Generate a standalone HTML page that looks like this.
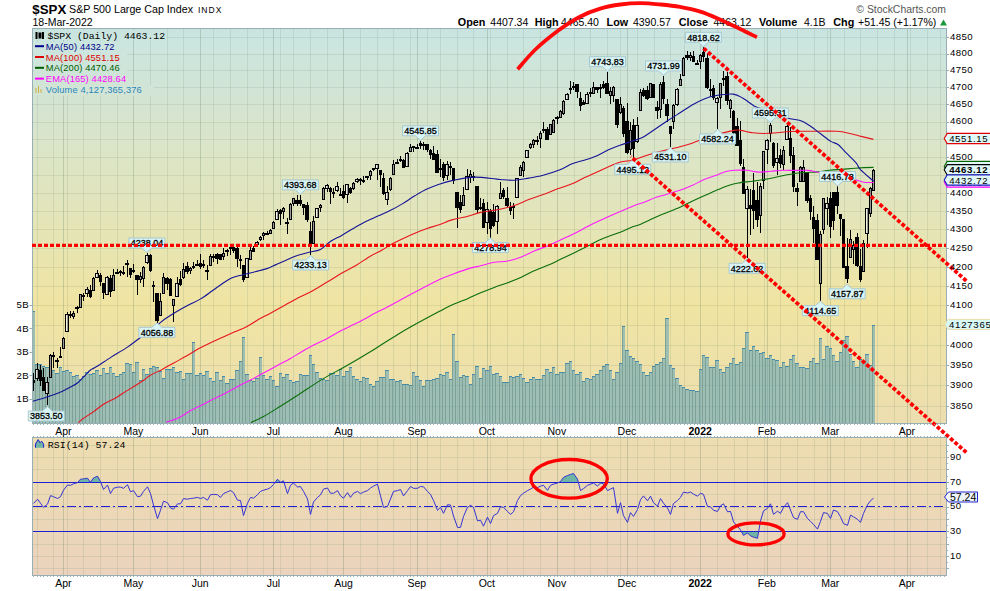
<!DOCTYPE html><html><head><meta charset="utf-8"><style>html,body{margin:0;padding:0;background:#fff;width:990px;height:591px;overflow:hidden}svg{display:block}text{font-family:"Liberation Sans",sans-serif}</style></head><body>
<svg width="990" height="591" viewBox="0 0 990 591">
<defs><linearGradient id="gp" gradientUnits="userSpaceOnUse" x1="0" y1="28.5" x2="0" y2="423.5"><stop offset="0" stop-color="rgb(201,228,224)"/><stop offset="0.04" stop-color="rgb(203,229,223)"/><stop offset="0.19" stop-color="rgb(212,228,210)"/><stop offset="0.32" stop-color="rgb(220,229,198)"/><stop offset="0.47" stop-color="rgb(227,229,186)"/><stop offset="0.70" stop-color="rgb(240,228,162)"/><stop offset="0.82" stop-color="rgb(238,226,168)"/><stop offset="1" stop-color="rgb(236,222,175)"/></linearGradient><linearGradient id="gr" x1="0" y1="0" x2="0" y2="1"><stop offset="0" stop-color="rgb(237,221,176)"/><stop offset="1" stop-color="rgb(235,211,189)"/></linearGradient><clipPath id="cp"><rect x="33" y="29" width="913" height="394"/></clipPath><clipPath id="cr"><rect x="33" y="438" width="913" height="137"/></clipPath></defs>
<text x="32.3" y="14" font-size="13.3" font-weight="bold" fill="#000">$SPX</text>
<text x="69" y="13.3" font-size="10.7" fill="#000">S&amp;P 500 Large Cap Index</text>
<text x="198" y="13" font-size="8.5" fill="#000" letter-spacing="1">INDX</text>
<text x="32.5" y="26.3" font-size="10.5" fill="#000">18-Mar-2022</text>
<text x="946" y="13.2" font-size="10.4" fill="#555" text-anchor="end">© StockCharts.com</text>
<text x="457.8" y="25.7" font-size="10.8" font-weight="bold" fill="#000">Open</text>
<text x="490.3" y="25.7" font-size="10.5" fill="#000">4407.34</text>
<text x="534.7" y="25.7" font-size="10.8" font-weight="bold" fill="#000">High</text>
<text x="561.0" y="25.7" font-size="10.5" fill="#000">4465.40</text>
<text x="606.6" y="25.7" font-size="10.8" font-weight="bold" fill="#000">Low</text>
<text x="632.9" y="25.7" font-size="10.5" fill="#000">4390.57</text>
<text x="678.7" y="25.7" font-size="10.8" font-weight="bold" fill="#000">Close</text>
<text x="713.5" y="25.7" font-size="10.5" fill="#000">4463.12</text>
<text x="759.0" y="25.7" font-size="10.8" font-weight="bold" fill="#000">Volume</text>
<text x="804.0" y="25.7" font-size="10.5" fill="#000">4.1B</text>
<text x="833.3" y="25.7" font-size="10.8" font-weight="bold" fill="#000">Chg</text>
<text x="858.0" y="25.7" font-size="10.5" fill="#000">+51.45 (+1.17%)</text>
<path d="M940 25.5 L943.5 19.5 L947 25.5 Z" fill="#1a9a3a"/>
<rect x="32.5" y="28.5" width="914.0" height="395.0" fill="url(#gp)" stroke="#96aeb4" stroke-width="1"/>
<g clip-path="url(#cp)">
<path d="M37.5 29V423 M53.5 29V423 M63.5 29V423 M67.5 29V423 M83.5 29V423 M100.5 29V423 M117.5 29V423 M133.5 29V423 M150.5 29V423 M167.5 29V423 M183.5 29V423 M200.5 29V423 M213.5 29V423 M230.5 29V423 M247.5 29V423 M263.5 29V423 M273.5 29V423 M280.5 29V423 M293.5 29V423 M310.5 29V423 M327.5 29V423 M343.5 29V423 M360.5 29V423 M377.5 29V423 M393.5 29V423 M410.5 29V423 M417.5 29V423 M427.5 29V423 M440.5 29V423 M457.5 29V423 M473.5 29V423 M487.5 29V423 M490.5 29V423 M507.5 29V423 M523.5 29V423 M540.5 29V423 M557.5 29V423 M574.5 29V423 M590.5 29V423 M607.5 29V423 M620.5 29V423 M627.5 29V423 M637.5 29V423 M654.5 29V423 M670.5 29V423 M684.5 29V423 M700.5 29V423 M717.5 29V423 M734.5 29V423 M747.5 29V423 M764.5 29V423 M767.5 29V423 M780.5 29V423 M797.5 29V423 M814.5 29V423 M827.5 29V423 M830.5 29V423 M844.5 29V423 M860.5 29V423 M877.5 29V423 M894.5 29V423 M907.5 29V423 M910.5 29V423 M927.5 29V423 M940.5 29V423" stroke="rgb(100,130,100)" stroke-opacity="0.15" stroke-width="1" fill="none"/>
<path d="M63.5 29V423 M133.5 29V423 M200.5 29V423 M273.5 29V423 M343.5 29V423 M417.5 29V423 M487.5 29V423 M557.5 29V423 M627.5 29V423 M700.5 29V423 M767.5 29V423 M830.5 29V423 M907.5 29V423" stroke="rgb(100,130,100)" stroke-opacity="0.14" stroke-width="1" fill="none"/>
<path d="M33 406.5H946 M33 385.5H946 M33 365.5H946 M33 345.5H946 M33 325.5H946 M33 305.5H946 M33 286.5H946 M33 267.5H946 M33 248.5H946 M33 229.5H946 M33 211.5H946 M33 193.5H946 M33 175.5H946 M33 157.5H946 M33 139.5H946 M33 122.5H946 M33 104.5H946 M33 87.5H946 M33 70.5H946 M33 54.5H946 M33 37.5H946" stroke="rgb(100,130,100)" stroke-opacity="0.15" stroke-width="1" fill="none"/>
<g fill="rgb(95,162,186)" fill-opacity="0.55"><rect x="32" y="311" width="3" height="112"/><rect x="35" y="364" width="4" height="59"/><rect x="39" y="364" width="3" height="59"/><rect x="42" y="366" width="3" height="57"/><rect x="45" y="367" width="4" height="56"/><rect x="49" y="368" width="3" height="55"/><rect x="52" y="370" width="3" height="53"/><rect x="55" y="373" width="4" height="50"/><rect x="59" y="367" width="3" height="56"/><rect x="62" y="371" width="3" height="52"/><rect x="65" y="370" width="4" height="53"/><rect x="69" y="372" width="3" height="51"/><rect x="72" y="376" width="3" height="47"/><rect x="75" y="375" width="4" height="48"/><rect x="79" y="379" width="3" height="44"/><rect x="82" y="376" width="3" height="47"/><rect x="85" y="372" width="4" height="51"/><rect x="89" y="374" width="3" height="49"/><rect x="92" y="373" width="3" height="50"/><rect x="95" y="370" width="4" height="53"/><rect x="99" y="375" width="3" height="48"/><rect x="102" y="368" width="3" height="55"/><rect x="105" y="373" width="4" height="50"/><rect x="109" y="367" width="3" height="56"/><rect x="112" y="373" width="3" height="50"/><rect x="115" y="376" width="4" height="47"/><rect x="119" y="374" width="3" height="49"/><rect x="122" y="372" width="3" height="51"/><rect x="125" y="363" width="4" height="60"/><rect x="129" y="364" width="3" height="59"/><rect x="132" y="372" width="3" height="51"/><rect x="135" y="362" width="4" height="61"/><rect x="139" y="380" width="3" height="43"/><rect x="142" y="369" width="3" height="54"/><rect x="145" y="374" width="4" height="49"/><rect x="149" y="368" width="3" height="55"/><rect x="152" y="366" width="3" height="57"/><rect x="155" y="367" width="4" height="56"/><rect x="159" y="371" width="3" height="52"/><rect x="162" y="378" width="3" height="45"/><rect x="165" y="369" width="4" height="54"/><rect x="169" y="369" width="3" height="54"/><rect x="172" y="367" width="3" height="56"/><rect x="175" y="372" width="4" height="51"/><rect x="179" y="371" width="3" height="52"/><rect x="182" y="379" width="3" height="44"/><rect x="185" y="373" width="4" height="50"/><rect x="189" y="373" width="3" height="50"/><rect x="192" y="342" width="3" height="81"/><rect x="195" y="375" width="4" height="48"/><rect x="199" y="373" width="3" height="50"/><rect x="202" y="375" width="3" height="48"/><rect x="205" y="371" width="4" height="52"/><rect x="209" y="378" width="3" height="45"/><rect x="212" y="381" width="3" height="42"/><rect x="215" y="372" width="4" height="51"/><rect x="219" y="380" width="3" height="43"/><rect x="222" y="376" width="3" height="47"/><rect x="225" y="383" width="4" height="40"/><rect x="229" y="379" width="3" height="44"/><rect x="232" y="379" width="3" height="44"/><rect x="235" y="370" width="4" height="53"/><rect x="239" y="361" width="3" height="62"/><rect x="242" y="337" width="3" height="86"/><rect x="245" y="374" width="4" height="49"/><rect x="249" y="380" width="3" height="43"/><rect x="252" y="381" width="3" height="42"/><rect x="255" y="378" width="4" height="45"/><rect x="259" y="357" width="3" height="66"/><rect x="262" y="375" width="3" height="48"/><rect x="265" y="379" width="4" height="44"/><rect x="269" y="376" width="3" height="47"/><rect x="272" y="380" width="3" height="43"/><rect x="275" y="386" width="4" height="37"/><rect x="279" y="373" width="3" height="50"/><rect x="282" y="377" width="3" height="46"/><rect x="285" y="374" width="4" height="49"/><rect x="289" y="380" width="3" height="43"/><rect x="292" y="382" width="3" height="41"/><rect x="295" y="381" width="4" height="42"/><rect x="299" y="374" width="3" height="49"/><rect x="302" y="375" width="3" height="48"/><rect x="305" y="375" width="4" height="48"/><rect x="309" y="355" width="3" height="68"/><rect x="312" y="364" width="3" height="59"/><rect x="315" y="372" width="4" height="51"/><rect x="319" y="378" width="3" height="45"/><rect x="322" y="379" width="3" height="44"/><rect x="325" y="380" width="4" height="43"/><rect x="329" y="373" width="3" height="50"/><rect x="332" y="373" width="3" height="50"/><rect x="335" y="375" width="4" height="48"/><rect x="339" y="369" width="3" height="54"/><rect x="342" y="376" width="3" height="47"/><rect x="345" y="371" width="4" height="52"/><rect x="349" y="367" width="3" height="56"/><rect x="352" y="376" width="3" height="47"/><rect x="355" y="379" width="4" height="44"/><rect x="359" y="381" width="3" height="42"/><rect x="362" y="377" width="3" height="46"/><rect x="365" y="378" width="4" height="45"/><rect x="369" y="384" width="3" height="39"/><rect x="372" y="386" width="3" height="37"/><rect x="375" y="381" width="4" height="42"/><rect x="379" y="377" width="3" height="46"/><rect x="382" y="377" width="3" height="46"/><rect x="385" y="370" width="4" height="53"/><rect x="389" y="379" width="3" height="44"/><rect x="392" y="379" width="3" height="44"/><rect x="395" y="381" width="4" height="42"/><rect x="399" y="380" width="3" height="43"/><rect x="402" y="384" width="3" height="39"/><rect x="405" y="384" width="4" height="39"/><rect x="409" y="385" width="3" height="38"/><rect x="412" y="372" width="3" height="51"/><rect x="415" y="376" width="4" height="47"/><rect x="419" y="380" width="3" height="43"/><rect x="422" y="386" width="3" height="37"/><rect x="425" y="380" width="4" height="43"/><rect x="429" y="380" width="3" height="43"/><rect x="432" y="379" width="3" height="44"/><rect x="435" y="378" width="4" height="45"/><rect x="439" y="374" width="3" height="49"/><rect x="442" y="375" width="3" height="48"/><rect x="445" y="372" width="4" height="51"/><rect x="449" y="379" width="3" height="44"/><rect x="452" y="334" width="3" height="89"/><rect x="455" y="361" width="4" height="62"/><rect x="459" y="377" width="3" height="46"/><rect x="462" y="375" width="3" height="48"/><rect x="465" y="376" width="4" height="47"/><rect x="469" y="384" width="3" height="39"/><rect x="472" y="374" width="3" height="49"/><rect x="475" y="366" width="4" height="57"/><rect x="479" y="378" width="3" height="45"/><rect x="482" y="368" width="3" height="55"/><rect x="485" y="370" width="4" height="53"/><rect x="489" y="366" width="3" height="57"/><rect x="492" y="374" width="3" height="49"/><rect x="495" y="373" width="4" height="50"/><rect x="499" y="376" width="3" height="47"/><rect x="502" y="382" width="3" height="41"/><rect x="505" y="382" width="4" height="41"/><rect x="509" y="376" width="3" height="47"/><rect x="512" y="377" width="3" height="46"/><rect x="515" y="376" width="4" height="47"/><rect x="519" y="374" width="3" height="49"/><rect x="522" y="378" width="3" height="45"/><rect x="525" y="382" width="4" height="41"/><rect x="529" y="379" width="3" height="44"/><rect x="532" y="377" width="3" height="46"/><rect x="535" y="379" width="4" height="44"/><rect x="539" y="379" width="3" height="44"/><rect x="542" y="375" width="3" height="48"/><rect x="545" y="369" width="4" height="54"/><rect x="549" y="372" width="3" height="51"/><rect x="552" y="367" width="3" height="56"/><rect x="555" y="374" width="4" height="49"/><rect x="559" y="372" width="3" height="51"/><rect x="562" y="372" width="3" height="51"/><rect x="565" y="363" width="4" height="60"/><rect x="569" y="361" width="3" height="62"/><rect x="572" y="370" width="3" height="53"/><rect x="575" y="374" width="4" height="49"/><rect x="579" y="372" width="3" height="51"/><rect x="582" y="381" width="3" height="42"/><rect x="585" y="378" width="4" height="45"/><rect x="589" y="379" width="3" height="44"/><rect x="592" y="376" width="3" height="47"/><rect x="595" y="374" width="4" height="49"/><rect x="599" y="370" width="3" height="53"/><rect x="602" y="366" width="3" height="57"/><rect x="605" y="364" width="4" height="59"/><rect x="609" y="370" width="3" height="53"/><rect x="612" y="379" width="3" height="44"/><rect x="615" y="372" width="4" height="51"/><rect x="619" y="363" width="3" height="60"/><rect x="622" y="326" width="3" height="97"/><rect x="625" y="350" width="4" height="73"/><rect x="629" y="356" width="3" height="67"/><rect x="632" y="358" width="3" height="65"/><rect x="635" y="361" width="4" height="62"/><rect x="639" y="364" width="3" height="59"/><rect x="642" y="372" width="3" height="51"/><rect x="645" y="375" width="4" height="48"/><rect x="649" y="372" width="3" height="51"/><rect x="652" y="366" width="3" height="57"/><rect x="655" y="364" width="4" height="59"/><rect x="659" y="362" width="3" height="61"/><rect x="662" y="358" width="3" height="65"/><rect x="665" y="318" width="4" height="105"/><rect x="669" y="365" width="3" height="58"/><rect x="672" y="368" width="3" height="55"/><rect x="675" y="378" width="4" height="45"/><rect x="679" y="385" width="3" height="38"/><rect x="682" y="387" width="3" height="36"/><rect x="685" y="389" width="4" height="34"/><rect x="689" y="390" width="3" height="33"/><rect x="692" y="390" width="3" height="33"/><rect x="695" y="391" width="4" height="32"/><rect x="699" y="369" width="3" height="54"/><rect x="702" y="355" width="3" height="68"/><rect x="705" y="357" width="4" height="66"/><rect x="709" y="367" width="3" height="56"/><rect x="712" y="367" width="3" height="56"/><rect x="715" y="360" width="4" height="63"/><rect x="719" y="369" width="3" height="54"/><rect x="722" y="372" width="3" height="51"/><rect x="725" y="367" width="4" height="56"/><rect x="729" y="363" width="3" height="60"/><rect x="732" y="358" width="3" height="65"/><rect x="735" y="364" width="4" height="59"/><rect x="739" y="362" width="3" height="61"/><rect x="742" y="348" width="3" height="75"/><rect x="745" y="332" width="4" height="91"/><rect x="749" y="350" width="3" height="73"/><rect x="752" y="346" width="3" height="77"/><rect x="755" y="350" width="4" height="73"/><rect x="759" y="353" width="3" height="70"/><rect x="762" y="352" width="3" height="71"/><rect x="765" y="358" width="4" height="65"/><rect x="769" y="355" width="3" height="68"/><rect x="772" y="359" width="3" height="64"/><rect x="775" y="360" width="4" height="63"/><rect x="779" y="367" width="3" height="56"/><rect x="782" y="362" width="3" height="61"/><rect x="785" y="366" width="4" height="57"/><rect x="789" y="359" width="3" height="64"/><rect x="792" y="355" width="3" height="68"/><rect x="795" y="363" width="4" height="60"/><rect x="799" y="367" width="3" height="56"/><rect x="802" y="367" width="3" height="56"/><rect x="805" y="368" width="4" height="55"/><rect x="809" y="361" width="3" height="62"/><rect x="812" y="358" width="3" height="65"/><rect x="815" y="363" width="4" height="60"/><rect x="819" y="338" width="3" height="85"/><rect x="822" y="359" width="3" height="64"/><rect x="825" y="346" width="4" height="77"/><rect x="829" y="348" width="3" height="75"/><rect x="832" y="355" width="3" height="68"/><rect x="835" y="361" width="4" height="62"/><rect x="839" y="352" width="3" height="71"/><rect x="842" y="340" width="3" height="83"/><rect x="845" y="336" width="4" height="87"/><rect x="849" y="354" width="3" height="69"/><rect x="852" y="361" width="3" height="62"/><rect x="855" y="367" width="4" height="56"/><rect x="859" y="359" width="3" height="64"/><rect x="862" y="362" width="3" height="61"/><rect x="865" y="354" width="4" height="69"/><rect x="869" y="365" width="3" height="58"/><rect x="872" y="325" width="3" height="98"/></g>
<path d="M32.5 312V423 M35.5 365V423 M39.5 365V423 M42.5 367V423 M45.5 368V423 M49.5 369V423 M52.5 371V423 M55.5 374V423 M59.5 368V423 M62.5 372V423 M65.5 371V423 M69.5 373V423 M72.5 377V423 M75.5 376V423 M79.5 380V423 M82.5 377V423 M85.5 373V423 M89.5 375V423 M92.5 374V423 M95.5 371V423 M99.5 376V423 M102.5 369V423 M105.5 374V423 M109.5 368V423 M112.5 374V423 M115.5 377V423 M119.5 375V423 M122.5 373V423 M125.5 364V423 M129.5 365V423 M132.5 373V423 M135.5 363V423 M139.5 381V423 M142.5 370V423 M145.5 375V423 M149.5 369V423 M152.5 367V423 M155.5 368V423 M159.5 372V423 M162.5 379V423 M165.5 370V423 M169.5 370V423 M172.5 368V423 M175.5 373V423 M179.5 372V423 M182.5 380V423 M185.5 374V423 M189.5 374V423 M192.5 343V423 M195.5 376V423 M199.5 374V423 M202.5 376V423 M205.5 372V423 M209.5 379V423 M212.5 382V423 M215.5 373V423 M219.5 381V423 M222.5 377V423 M225.5 384V423 M229.5 380V423 M232.5 380V423 M235.5 371V423 M239.5 362V423 M242.5 338V423 M245.5 375V423 M249.5 381V423 M252.5 382V423 M255.5 379V423 M259.5 358V423 M262.5 376V423 M265.5 380V423 M269.5 377V423 M272.5 381V423 M275.5 387V423 M279.5 374V423 M282.5 378V423 M285.5 375V423 M289.5 381V423 M292.5 383V423 M295.5 382V423 M299.5 375V423 M302.5 376V423 M305.5 376V423 M309.5 356V423 M312.5 365V423 M315.5 373V423 M319.5 379V423 M322.5 380V423 M325.5 381V423 M329.5 374V423 M332.5 374V423 M335.5 376V423 M339.5 370V423 M342.5 377V423 M345.5 372V423 M349.5 368V423 M352.5 377V423 M355.5 380V423 M359.5 382V423 M362.5 378V423 M365.5 379V423 M369.5 385V423 M372.5 387V423 M375.5 382V423 M379.5 378V423 M382.5 378V423 M385.5 371V423 M389.5 380V423 M392.5 380V423 M395.5 382V423 M399.5 381V423 M402.5 385V423 M405.5 385V423 M409.5 386V423 M412.5 373V423 M415.5 377V423 M419.5 381V423 M422.5 387V423 M425.5 381V423 M429.5 381V423 M432.5 380V423 M435.5 379V423 M439.5 375V423 M442.5 376V423 M445.5 373V423 M449.5 380V423 M452.5 335V423 M455.5 362V423 M459.5 378V423 M462.5 376V423 M465.5 377V423 M469.5 385V423 M472.5 375V423 M475.5 367V423 M479.5 379V423 M482.5 369V423 M485.5 371V423 M489.5 367V423 M492.5 375V423 M495.5 374V423 M499.5 377V423 M502.5 383V423 M505.5 383V423 M509.5 377V423 M512.5 378V423 M515.5 377V423 M519.5 375V423 M522.5 379V423 M525.5 383V423 M529.5 380V423 M532.5 378V423 M535.5 380V423 M539.5 380V423 M542.5 376V423 M545.5 370V423 M549.5 373V423 M552.5 368V423 M555.5 375V423 M559.5 373V423 M562.5 373V423 M565.5 364V423 M569.5 362V423 M572.5 371V423 M575.5 375V423 M579.5 373V423 M582.5 382V423 M585.5 379V423 M589.5 380V423 M592.5 377V423 M595.5 375V423 M599.5 371V423 M602.5 367V423 M605.5 365V423 M609.5 371V423 M612.5 380V423 M615.5 373V423 M619.5 364V423 M622.5 327V423 M625.5 351V423 M629.5 357V423 M632.5 359V423 M635.5 362V423 M639.5 365V423 M642.5 373V423 M645.5 376V423 M649.5 373V423 M652.5 367V423 M655.5 365V423 M659.5 363V423 M662.5 359V423 M665.5 319V423 M669.5 366V423 M672.5 369V423 M675.5 379V423 M679.5 386V423 M682.5 388V423 M685.5 390V423 M689.5 391V423 M692.5 391V423 M695.5 392V423 M699.5 370V423 M702.5 356V423 M705.5 358V423 M709.5 368V423 M712.5 368V423 M715.5 361V423 M719.5 370V423 M722.5 373V423 M725.5 368V423 M729.5 364V423 M732.5 359V423 M735.5 365V423 M739.5 363V423 M742.5 349V423 M745.5 333V423 M749.5 351V423 M752.5 347V423 M755.5 351V423 M759.5 354V423 M762.5 353V423 M765.5 359V423 M769.5 356V423 M772.5 360V423 M775.5 361V423 M779.5 368V423 M782.5 363V423 M785.5 367V423 M789.5 360V423 M792.5 356V423 M795.5 364V423 M799.5 368V423 M802.5 368V423 M805.5 369V423 M809.5 362V423 M812.5 359V423 M815.5 364V423 M819.5 339V423 M822.5 360V423 M825.5 347V423 M829.5 349V423 M832.5 356V423 M835.5 362V423 M839.5 353V423 M842.5 341V423 M845.5 337V423 M849.5 355V423 M852.5 362V423 M855.5 368V423 M859.5 360V423 M862.5 363V423 M865.5 355V423 M869.5 366V423 M872.5 326V423" stroke="rgb(60,110,100)" stroke-opacity="0.35" stroke-width="1"/>
<path d="M32 311.5H35 M35 364.5H39 M39 364.5H42 M42 366.5H45 M45 367.5H49 M49 368.5H52 M52 370.5H55 M55 373.5H59 M59 367.5H62 M62 371.5H65 M65 370.5H69 M69 372.5H72 M72 376.5H75 M75 375.5H79 M79 379.5H82 M82 376.5H85 M85 372.5H89 M89 374.5H92 M92 373.5H95 M95 370.5H99 M99 375.5H102 M102 368.5H105 M105 373.5H109 M109 367.5H112 M112 373.5H115 M115 376.5H119 M119 374.5H122 M122 372.5H125 M125 363.5H129 M129 364.5H132 M132 372.5H135 M135 362.5H139 M139 380.5H142 M142 369.5H145 M145 374.5H149 M149 368.5H152 M152 366.5H155 M155 367.5H159 M159 371.5H162 M162 378.5H165 M165 369.5H169 M169 369.5H172 M172 367.5H175 M175 372.5H179 M179 371.5H182 M182 379.5H185 M185 373.5H189 M189 373.5H192 M192 342.5H195 M195 375.5H199 M199 373.5H202 M202 375.5H205 M205 371.5H209 M209 378.5H212 M212 381.5H215 M215 372.5H219 M219 380.5H222 M222 376.5H225 M225 383.5H229 M229 379.5H232 M232 379.5H235 M235 370.5H239 M239 361.5H242 M242 337.5H245 M245 374.5H249 M249 380.5H252 M252 381.5H255 M255 378.5H259 M259 357.5H262 M262 375.5H265 M265 379.5H269 M269 376.5H272 M272 380.5H275 M275 386.5H279 M279 373.5H282 M282 377.5H285 M285 374.5H289 M289 380.5H292 M292 382.5H295 M295 381.5H299 M299 374.5H302 M302 375.5H305 M305 375.5H309 M309 355.5H312 M312 364.5H315 M315 372.5H319 M319 378.5H322 M322 379.5H325 M325 380.5H329 M329 373.5H332 M332 373.5H335 M335 375.5H339 M339 369.5H342 M342 376.5H345 M345 371.5H349 M349 367.5H352 M352 376.5H355 M355 379.5H359 M359 381.5H362 M362 377.5H365 M365 378.5H369 M369 384.5H372 M372 386.5H375 M375 381.5H379 M379 377.5H382 M382 377.5H385 M385 370.5H389 M389 379.5H392 M392 379.5H395 M395 381.5H399 M399 380.5H402 M402 384.5H405 M405 384.5H409 M409 385.5H412 M412 372.5H415 M415 376.5H419 M419 380.5H422 M422 386.5H425 M425 380.5H429 M429 380.5H432 M432 379.5H435 M435 378.5H439 M439 374.5H442 M442 375.5H445 M445 372.5H449 M449 379.5H452 M452 334.5H455 M455 361.5H459 M459 377.5H462 M462 375.5H465 M465 376.5H469 M469 384.5H472 M472 374.5H475 M475 366.5H479 M479 378.5H482 M482 368.5H485 M485 370.5H489 M489 366.5H492 M492 374.5H495 M495 373.5H499 M499 376.5H502 M502 382.5H505 M505 382.5H509 M509 376.5H512 M512 377.5H515 M515 376.5H519 M519 374.5H522 M522 378.5H525 M525 382.5H529 M529 379.5H532 M532 377.5H535 M535 379.5H539 M539 379.5H542 M542 375.5H545 M545 369.5H549 M549 372.5H552 M552 367.5H555 M555 374.5H559 M559 372.5H562 M562 372.5H565 M565 363.5H569 M569 361.5H572 M572 370.5H575 M575 374.5H579 M579 372.5H582 M582 381.5H585 M585 378.5H589 M589 379.5H592 M592 376.5H595 M595 374.5H599 M599 370.5H602 M602 366.5H605 M605 364.5H609 M609 370.5H612 M612 379.5H615 M615 372.5H619 M619 363.5H622 M622 326.5H625 M625 350.5H629 M629 356.5H632 M632 358.5H635 M635 361.5H639 M639 364.5H642 M642 372.5H645 M645 375.5H649 M649 372.5H652 M652 366.5H655 M655 364.5H659 M659 362.5H662 M662 358.5H665 M665 318.5H669 M669 365.5H672 M672 368.5H675 M675 378.5H679 M679 385.5H682 M682 387.5H685 M685 389.5H689 M689 390.5H692 M692 390.5H695 M695 391.5H699 M699 369.5H702 M702 355.5H705 M705 357.5H709 M709 367.5H712 M712 367.5H715 M715 360.5H719 M719 369.5H722 M722 372.5H725 M725 367.5H729 M729 363.5H732 M732 358.5H735 M735 364.5H739 M739 362.5H742 M742 348.5H745 M745 332.5H749 M749 350.5H752 M752 346.5H755 M755 350.5H759 M759 353.5H762 M762 352.5H765 M765 358.5H769 M769 355.5H772 M772 359.5H775 M775 360.5H779 M779 367.5H782 M782 362.5H785 M785 366.5H789 M789 359.5H792 M792 355.5H795 M795 363.5H799 M799 367.5H802 M802 367.5H805 M805 368.5H809 M809 361.5H812 M812 358.5H815 M815 363.5H819 M819 338.5H822 M822 359.5H825 M825 346.5H829 M829 348.5H832 M832 355.5H835 M835 361.5H839 M839 352.5H842 M842 340.5H845 M845 336.5H849 M849 354.5H852 M852 361.5H855 M855 367.5H859 M859 359.5H862 M862 362.5H865 M865 354.5H869 M869 365.5H872 M872 325.5H875" stroke="rgb(70,140,168)" stroke-width="1"/>
<path d="M33.5 373V391 M37.5 363V381 M40.5 365V386 M43.5 368V391 M47.5 377V405 M50.5 354V378 M53.5 352V368 M57.5 358V368 M60.5 347V358 M63.5 337V349 M67.5 312V332 M70.5 311V318 M73.5 311V319 M77.5 306V313 M80.5 294V308 M83.5 293V301 M87.5 287V297 M90.5 285V298 M93.5 277V291 M97.5 270V278 M100.5 273V286 M103.5 283V299 M107.5 276V295 M110.5 275V297 M113.5 269V291 M117.5 269V274 M120.5 270V276 M123.5 266V275 M127.5 260V277 M130.5 268V278 M133.5 264V273 M137.5 275V295 M140.5 272V283 M143.5 266V287 M147.5 253V264 M150.5 254V272 M153.5 281V302 M157.5 293V323 M160.5 293V316 M163.5 273V294 M167.5 277V290 M170.5 278V296 M173.5 299V322 M177.5 277V297 M180.5 271V286 M183.5 263V279 M187.5 262V274 M190.5 267V274 M193.5 262V269 M197.5 260V266 M200.5 254V269 M203.5 260V268 M207.5 265V280 M210.5 254V266 M213.5 254V262 M217.5 253V264 M220.5 254V260 M223.5 248V260 M227.5 249V256 M230.5 246V255 M233.5 247V253 M237.5 247V267 M240.5 255V269 M243.5 265V282 M247.5 258V278 M250.5 247V260 M253.5 246V252 M257.5 241V246 M260.5 236V241 M263.5 232V240 M267.5 231V234 M270.5 229V234 M273.5 221V229 M277.5 209V220 M280.5 209V225 M283.5 207V219 M287.5 218V234 M290.5 203V220 M293.5 198V206 M297.5 195V206 M300.5 195V206 M303.5 204V215 M307.5 202V222 M310.5 222V255 M313.5 216V244 M317.5 208V218 M320.5 204V212 M323.5 187V200 M327.5 184V192 M330.5 187V204 M333.5 188V198 M337.5 182V192 M340.5 188V196 M343.5 185V199 M347.5 184V203 M350.5 187V194 M353.5 182V190 M357.5 178V183 M360.5 178V185 M363.5 176V183 M367.5 176V180 M370.5 170V180 M373.5 168V171 M377.5 164V180 M380.5 170V187 M383.5 173V195 M387.5 186V205 M390.5 177V191 M393.5 160V175 M397.5 159V164 M400.5 156V162 M403.5 159V168 M407.5 152V167 M410.5 144V152 M413.5 146V152 M417.5 144V149 M420.5 141V149 M423.5 142V150 M427.5 144V152 M430.5 149V159 M433.5 146V160 M437.5 150V173 M440.5 159V177 M443.5 162V181 M447.5 161V180 M450.5 162V175 M453.5 168V184 M457.5 192V228 M460.5 195V213 M463.5 187V206 M467.5 169V190 M470.5 170V183 M473.5 172V181 M477.5 186V213 M480.5 198V210 M483.5 199V228 M487.5 202V234 M490.5 209V238 M493.5 204V227 M497.5 205V234 M500.5 182V199 M503.5 188V199 M507.5 187V207 M510.5 202V215 M513.5 203V219 M517.5 178V198 M520.5 165V176 M523.5 161V177 M527.5 150V158 M530.5 143V149 M533.5 139V148 M537.5 136V145 M540.5 131V148 M543.5 122V133 M547.5 127V140 M550.5 124V135 M553.5 119V133 M557.5 116V124 M560.5 110V118 M563.5 100V115 M567.5 93V100 M570.5 81V94 M573.5 82V90 M577.5 84V98 M580.5 92V111 M583.5 100V105 M587.5 92V104 M590.5 88V97 M593.5 82V94 M597.5 87V93 M600.5 84V98 M603.5 81V89 M607.5 72V94 M610.5 87V104 M613.5 86V102 M617.5 99V128 M620.5 97V114 M623.5 106V137 M627.5 103V154 M630.5 122V155 M633.5 119V159 M637.5 117V143 M640.5 89V111 M643.5 88V97 M647.5 86V100 M650.5 83V98 M653.5 84V98 M657.5 101V119 M660.5 82V118 M663.5 76V104 M667.5 99V122 M670.5 126V147 M673.5 104V129 M677.5 88V106 M680.5 74V86 M683.5 57V76 M687.5 51V60 M690.5 52V61 M693.5 51V62 M697.5 60V65 M700.5 54V69 M703.5 47V62 M707.5 54V89 M710.5 79V97 M713.5 85V100 M717.5 97V129 M720.5 83V109 M723.5 71V86 M727.5 72V105 M730.5 99V118 M733.5 110V134 M737.5 118V146 M740.5 121V166 M743.5 159V194 M747.5 186V258 M750.5 189V235 M753.5 173V229 M757.5 182V227 M760.5 183V233 M763.5 151V189 M767.5 139V164 M770.5 123V142 M773.5 142V168 M777.5 143V175 M780.5 149V168 M783.5 146V170 M787.5 125V140 M790.5 127V163 M793.5 147V192 M797.5 183V206 M800.5 166V182 M803.5 160V182 M807.5 172V203 M810.5 195V220 M813.5 206V243 M817.5 214V260 M820.5 231V301 M823.5 198V234 M827.5 197V225 M830.5 192V238 M833.5 192V230 M837.5 186V214 M840.5 214V236 M843.5 219V268 M847.5 238V283 M850.5 230V258 M853.5 241V264 M857.5 233V267 M860.5 249V282 M863.5 240V272 M867.5 208V248 M870.5 187V217 M873.5 169V191" stroke="#000" stroke-width="1" fill="none"/>
<rect x="32" y="380" width="3" height="3" fill="#000"/><rect x="35.5" y="369.5" width="3" height="9" fill="#fff" fill-opacity="0.6" stroke="#000" stroke-width="1"/><rect x="39" y="370" width="3" height="11" fill="#000"/><rect x="42" y="377" width="3" height="14" fill="#000"/><rect x="45.5" y="382.5" width="3" height="11" fill="#fff" fill-opacity="0.6" stroke="#000" stroke-width="1"/><rect x="49.5" y="355.5" width="2" height="22" fill="#fff" fill-opacity="0.6" stroke="#000" stroke-width="1"/><rect x="52" y="355" width="3" height="2" fill="#000"/><rect x="55" y="360" width="4" height="2" fill="#000"/><rect x="59.5" y="356.5" width="2" height="1" fill="#fff" fill-opacity="0.6" stroke="#000" stroke-width="1"/><rect x="62.5" y="338.5" width="2" height="10" fill="#fff" fill-opacity="0.6" stroke="#000" stroke-width="1"/><rect x="65.5" y="314.5" width="3" height="17" fill="#fff" fill-opacity="0.6" stroke="#000" stroke-width="1"/><rect x="69" y="314" width="3" height="2" fill="#000"/><rect x="72.5" y="313.5" width="2" height="3" fill="#fff" fill-opacity="0.6" stroke="#000" stroke-width="1"/><rect x="75.5" y="307.5" width="3" height="1" fill="#fff" fill-opacity="0.6" stroke="#000" stroke-width="1"/><rect x="79.5" y="294.5" width="2" height="13" fill="#fff" fill-opacity="0.6" stroke="#000" stroke-width="1"/><rect x="82" y="295" width="3" height="2" fill="#000"/><rect x="85.5" y="289.5" width="3" height="4" fill="#fff" fill-opacity="0.6" stroke="#000" stroke-width="1"/><rect x="89" y="290" width="3" height="7" fill="#000"/><rect x="92.5" y="278.5" width="2" height="12" fill="#fff" fill-opacity="0.6" stroke="#000" stroke-width="1"/><rect x="95.5" y="273.5" width="3" height="4" fill="#fff" fill-opacity="0.6" stroke="#000" stroke-width="1"/><rect x="99" y="275" width="3" height="7" fill="#000"/><rect x="102" y="283" width="3" height="10" fill="#000"/><rect x="105.5" y="277.5" width="3" height="17" fill="#fff" fill-opacity="0.6" stroke="#000" stroke-width="1"/><rect x="109" y="278" width="3" height="14" fill="#000"/><rect x="112.5" y="275.5" width="2" height="15" fill="#fff" fill-opacity="0.6" stroke="#000" stroke-width="1"/><rect x="115" y="272" width="4" height="2" fill="#000"/><rect x="119.5" y="271.5" width="2" height="1" fill="#fff" fill-opacity="0.6" stroke="#000" stroke-width="1"/><rect x="122" y="272" width="3" height="2" fill="#000"/><rect x="125.5" y="263.5" width="3" height="1" fill="#fff" fill-opacity="0.6" stroke="#000" stroke-width="1"/><rect x="129" y="268" width="3" height="7" fill="#000"/><rect x="132" y="270" width="3" height="2" fill="#000"/><rect x="135" y="275" width="4" height="5" fill="#000"/><rect x="139.5" y="276.5" width="2" height="3" fill="#fff" fill-opacity="0.6" stroke="#000" stroke-width="1"/><rect x="142.5" y="267.5" width="2" height="11" fill="#fff" fill-opacity="0.6" stroke="#000" stroke-width="1"/><rect x="145.5" y="255.5" width="3" height="7" fill="#fff" fill-opacity="0.6" stroke="#000" stroke-width="1"/><rect x="149" y="255" width="3" height="16" fill="#000"/><rect x="152" y="285" width="3" height="2" fill="#000"/><rect x="155" y="293" width="4" height="28" fill="#000"/><rect x="159.5" y="301.5" width="2" height="14" fill="#fff" fill-opacity="0.6" stroke="#000" stroke-width="1"/><rect x="162.5" y="277.5" width="2" height="16" fill="#fff" fill-opacity="0.6" stroke="#000" stroke-width="1"/><rect x="165" y="278" width="4" height="6" fill="#000"/><rect x="169" y="279" width="3" height="17" fill="#000"/><rect x="172.5" y="299.5" width="2" height="6" fill="#fff" fill-opacity="0.6" stroke="#000" stroke-width="1"/><rect x="175.5" y="283.5" width="3" height="13" fill="#fff" fill-opacity="0.6" stroke="#000" stroke-width="1"/><rect x="179" y="279" width="3" height="6" fill="#000"/><rect x="182.5" y="269.5" width="2" height="8" fill="#fff" fill-opacity="0.6" stroke="#000" stroke-width="1"/><rect x="185" y="266" width="4" height="6" fill="#000"/><rect x="189.5" y="268.5" width="2" height="2" fill="#fff" fill-opacity="0.6" stroke="#000" stroke-width="1"/><rect x="192" y="266" width="3" height="2" fill="#000"/><rect x="195.5" y="264.5" width="3" height="1" fill="#fff" fill-opacity="0.6" stroke="#000" stroke-width="1"/><rect x="199" y="263" width="3" height="4" fill="#000"/><rect x="202.5" y="264.5" width="2" height="1" fill="#fff" fill-opacity="0.6" stroke="#000" stroke-width="1"/><rect x="205" y="270" width="4" height="2" fill="#000"/><rect x="209.5" y="256.5" width="2" height="9" fill="#fff" fill-opacity="0.6" stroke="#000" stroke-width="1"/><rect x="212" y="256" width="3" height="2" fill="#000"/><rect x="215" y="254" width="4" height="5" fill="#000"/><rect x="219" y="254" width="3" height="6" fill="#000"/><rect x="222.5" y="253.5" width="2" height="3" fill="#fff" fill-opacity="0.6" stroke="#000" stroke-width="1"/><rect x="225.5" y="250.5" width="3" height="1" fill="#fff" fill-opacity="0.6" stroke="#000" stroke-width="1"/><rect x="229" y="247" width="3" height="2" fill="#000"/><rect x="232" y="247" width="3" height="4" fill="#000"/><rect x="235" y="248" width="4" height="11" fill="#000"/><rect x="239" y="259" width="3" height="2" fill="#000"/><rect x="242" y="265" width="3" height="15" fill="#000"/><rect x="245.5" y="258.5" width="3" height="19" fill="#fff" fill-opacity="0.6" stroke="#000" stroke-width="1"/><rect x="249.5" y="250.5" width="2" height="9" fill="#fff" fill-opacity="0.6" stroke="#000" stroke-width="1"/><rect x="252" y="248" width="3" height="4" fill="#000"/><rect x="255.5" y="242.5" width="3" height="2" fill="#fff" fill-opacity="0.6" stroke="#000" stroke-width="1"/><rect x="259.5" y="237.5" width="2" height="2" fill="#fff" fill-opacity="0.6" stroke="#000" stroke-width="1"/><rect x="262.5" y="233.5" width="2" height="2" fill="#fff" fill-opacity="0.6" stroke="#000" stroke-width="1"/><rect x="265" y="233" width="4" height="2" fill="#000"/><rect x="269.5" y="230.5" width="2" height="3" fill="#fff" fill-opacity="0.6" stroke="#000" stroke-width="1"/><rect x="272.5" y="222.5" width="2" height="6" fill="#fff" fill-opacity="0.6" stroke="#000" stroke-width="1"/><rect x="275.5" y="211.5" width="3" height="8" fill="#fff" fill-opacity="0.6" stroke="#000" stroke-width="1"/><rect x="279" y="210" width="3" height="4" fill="#000"/><rect x="282.5" y="208.5" width="2" height="3" fill="#fff" fill-opacity="0.6" stroke="#000" stroke-width="1"/><rect x="285" y="222" width="4" height="2" fill="#000"/><rect x="289.5" y="204.5" width="2" height="15" fill="#fff" fill-opacity="0.6" stroke="#000" stroke-width="1"/><rect x="292.5" y="198.5" width="2" height="5" fill="#fff" fill-opacity="0.6" stroke="#000" stroke-width="1"/><rect x="295" y="200" width="4" height="4" fill="#000"/><rect x="299" y="200" width="3" height="4" fill="#000"/><rect x="302" y="204" width="3" height="4" fill="#000"/><rect x="305" y="205" width="4" height="15" fill="#000"/><rect x="309" y="231" width="3" height="13" fill="#000"/><rect x="312.5" y="221.5" width="2" height="22" fill="#fff" fill-opacity="0.6" stroke="#000" stroke-width="1"/><rect x="315.5" y="208.5" width="3" height="9" fill="#fff" fill-opacity="0.6" stroke="#000" stroke-width="1"/><rect x="319.5" y="205.5" width="2" height="2" fill="#fff" fill-opacity="0.6" stroke="#000" stroke-width="1"/><rect x="322.5" y="188.5" width="2" height="11" fill="#fff" fill-opacity="0.6" stroke="#000" stroke-width="1"/><rect x="325.5" y="185.5" width="3" height="3" fill="#fff" fill-opacity="0.6" stroke="#000" stroke-width="1"/><rect x="329" y="188" width="3" height="4" fill="#000"/><rect x="332" y="192" width="3" height="2" fill="#000"/><rect x="335.5" y="186.5" width="3" height="4" fill="#fff" fill-opacity="0.6" stroke="#000" stroke-width="1"/><rect x="339" y="194" width="3" height="2" fill="#000"/><rect x="342" y="191" width="3" height="7" fill="#000"/><rect x="345.5" y="184.5" width="3" height="10" fill="#fff" fill-opacity="0.6" stroke="#000" stroke-width="1"/><rect x="349" y="188" width="3" height="5" fill="#000"/><rect x="352.5" y="183.5" width="2" height="5" fill="#fff" fill-opacity="0.6" stroke="#000" stroke-width="1"/><rect x="355.5" y="179.5" width="3" height="2" fill="#fff" fill-opacity="0.6" stroke="#000" stroke-width="1"/><rect x="359" y="179" width="3" height="2" fill="#000"/><rect x="362" y="180" width="3" height="2" fill="#000"/><rect x="365.5" y="176.5" width="3" height="1" fill="#fff" fill-opacity="0.6" stroke="#000" stroke-width="1"/><rect x="369.5" y="171.5" width="2" height="4" fill="#fff" fill-opacity="0.6" stroke="#000" stroke-width="1"/><rect x="372" y="168" width="3" height="2" fill="#000"/><rect x="375.5" y="164.5" width="3" height="4" fill="#fff" fill-opacity="0.6" stroke="#000" stroke-width="1"/><rect x="379" y="170" width="3" height="5" fill="#000"/><rect x="382" y="178" width="3" height="16" fill="#000"/><rect x="385.5" y="192.5" width="3" height="7" fill="#fff" fill-opacity="0.6" stroke="#000" stroke-width="1"/><rect x="389.5" y="178.5" width="2" height="11" fill="#fff" fill-opacity="0.6" stroke="#000" stroke-width="1"/><rect x="392.5" y="164.5" width="2" height="10" fill="#fff" fill-opacity="0.6" stroke="#000" stroke-width="1"/><rect x="395" y="162" width="4" height="2" fill="#000"/><rect x="399.5" y="159.5" width="2" height="1" fill="#fff" fill-opacity="0.6" stroke="#000" stroke-width="1"/><rect x="402" y="160" width="3" height="8" fill="#000"/><rect x="405.5" y="153.5" width="3" height="13" fill="#fff" fill-opacity="0.6" stroke="#000" stroke-width="1"/><rect x="409.5" y="147.5" width="2" height="4" fill="#fff" fill-opacity="0.6" stroke="#000" stroke-width="1"/><rect x="412" y="146" width="3" height="2" fill="#000"/><rect x="415" y="147" width="4" height="2" fill="#000"/><rect x="419" y="143" width="3" height="3" fill="#000"/><rect x="422" y="144" width="3" height="2" fill="#000"/><rect x="425" y="144" width="4" height="6" fill="#000"/><rect x="429" y="150" width="3" height="5" fill="#000"/><rect x="432" y="153" width="3" height="7" fill="#000"/><rect x="435" y="154" width="4" height="19" fill="#000"/><rect x="439" y="168" width="3" height="2" fill="#000"/><rect x="442" y="164" width="3" height="14" fill="#000"/><rect x="445.5" y="164.5" width="3" height="11" fill="#fff" fill-opacity="0.6" stroke="#000" stroke-width="1"/><rect x="449" y="166" width="3" height="2" fill="#000"/><rect x="452" y="168" width="3" height="13" fill="#000"/><rect x="455" y="192" width="4" height="16" fill="#000"/><rect x="459" y="202" width="3" height="8" fill="#000"/><rect x="462.5" y="195.5" width="2" height="10" fill="#fff" fill-opacity="0.6" stroke="#000" stroke-width="1"/><rect x="465.5" y="176.5" width="3" height="13" fill="#fff" fill-opacity="0.6" stroke="#000" stroke-width="1"/><rect x="469.5" y="174.5" width="2" height="3" fill="#fff" fill-opacity="0.6" stroke="#000" stroke-width="1"/><rect x="472" y="176" width="3" height="2" fill="#000"/><rect x="475" y="186" width="4" height="24" fill="#000"/><rect x="479" y="207" width="3" height="2" fill="#000"/><rect x="482" y="203" width="3" height="25" fill="#000"/><rect x="485.5" y="209.5" width="3" height="13" fill="#fff" fill-opacity="0.6" stroke="#000" stroke-width="1"/><rect x="489" y="211" width="3" height="18" fill="#000"/><rect x="492" y="212" width="3" height="14" fill="#000"/><rect x="495.5" y="206.5" width="3" height="15" fill="#fff" fill-opacity="0.6" stroke="#000" stroke-width="1"/><rect x="499.5" y="193.5" width="2" height="5" fill="#fff" fill-opacity="0.6" stroke="#000" stroke-width="1"/><rect x="502" y="190" width="3" height="7" fill="#000"/><rect x="505" y="198" width="4" height="8" fill="#000"/><rect x="509" y="207" width="3" height="4" fill="#000"/><rect x="512.5" y="206.5" width="2" height="1" fill="#fff" fill-opacity="0.6" stroke="#000" stroke-width="1"/><rect x="515.5" y="178.5" width="3" height="19" fill="#fff" fill-opacity="0.6" stroke="#000" stroke-width="1"/><rect x="519.5" y="167.5" width="2" height="8" fill="#fff" fill-opacity="0.6" stroke="#000" stroke-width="1"/><rect x="522.5" y="162.5" width="2" height="8" fill="#fff" fill-opacity="0.6" stroke="#000" stroke-width="1"/><rect x="525.5" y="150.5" width="3" height="7" fill="#fff" fill-opacity="0.6" stroke="#000" stroke-width="1"/><rect x="529.5" y="144.5" width="2" height="3" fill="#fff" fill-opacity="0.6" stroke="#000" stroke-width="1"/><rect x="532.5" y="140.5" width="2" height="4" fill="#fff" fill-opacity="0.6" stroke="#000" stroke-width="1"/><rect x="535" y="140" width="4" height="2" fill="#000"/><rect x="539.5" y="133.5" width="2" height="5" fill="#fff" fill-opacity="0.6" stroke="#000" stroke-width="1"/><rect x="542" y="129" width="3" height="2" fill="#000"/><rect x="545" y="129" width="4" height="11" fill="#000"/><rect x="549.5" y="124.5" width="2" height="10" fill="#fff" fill-opacity="0.6" stroke="#000" stroke-width="1"/><rect x="552.5" y="120.5" width="2" height="12" fill="#fff" fill-opacity="0.6" stroke="#000" stroke-width="1"/><rect x="555" y="117" width="4" height="2" fill="#000"/><rect x="559.5" y="111.5" width="2" height="6" fill="#fff" fill-opacity="0.6" stroke="#000" stroke-width="1"/><rect x="562.5" y="101.5" width="2" height="12" fill="#fff" fill-opacity="0.6" stroke="#000" stroke-width="1"/><rect x="565.5" y="94.5" width="3" height="5" fill="#fff" fill-opacity="0.6" stroke="#000" stroke-width="1"/><rect x="569" y="88" width="3" height="2" fill="#000"/><rect x="572" y="86" width="3" height="2" fill="#000"/><rect x="575" y="84" width="4" height="8" fill="#000"/><rect x="579" y="98" width="3" height="8" fill="#000"/><rect x="582" y="102" width="3" height="3" fill="#000"/><rect x="585.5" y="94.5" width="3" height="9" fill="#fff" fill-opacity="0.6" stroke="#000" stroke-width="1"/><rect x="589" y="92" width="3" height="2" fill="#000"/><rect x="592.5" y="87.5" width="2" height="6" fill="#fff" fill-opacity="0.6" stroke="#000" stroke-width="1"/><rect x="595" y="87" width="4" height="3" fill="#000"/><rect x="599" y="87" width="3" height="2" fill="#000"/><rect x="602" y="84" width="3" height="4" fill="#000"/><rect x="605" y="83" width="4" height="11" fill="#000"/><rect x="609.5" y="91.5" width="2" height="4" fill="#fff" fill-opacity="0.6" stroke="#000" stroke-width="1"/><rect x="612.5" y="87.5" width="2" height="8" fill="#fff" fill-opacity="0.6" stroke="#000" stroke-width="1"/><rect x="615" y="99" width="4" height="26" fill="#000"/><rect x="619.5" y="104.5" width="2" height="8" fill="#fff" fill-opacity="0.6" stroke="#000" stroke-width="1"/><rect x="622" y="108" width="3" height="26" fill="#000"/><rect x="625" y="121" width="4" height="32" fill="#000"/><rect x="629.5" y="130.5" width="2" height="19" fill="#fff" fill-opacity="0.6" stroke="#000" stroke-width="1"/><rect x="632" y="125" width="3" height="24" fill="#000"/><rect x="635.5" y="125.5" width="3" height="16" fill="#fff" fill-opacity="0.6" stroke="#000" stroke-width="1"/><rect x="639.5" y="92.5" width="2" height="18" fill="#fff" fill-opacity="0.6" stroke="#000" stroke-width="1"/><rect x="642" y="90" width="3" height="6" fill="#000"/><rect x="645" y="90" width="4" height="9" fill="#000"/><rect x="649.5" y="83.5" width="2" height="14" fill="#fff" fill-opacity="0.6" stroke="#000" stroke-width="1"/><rect x="652" y="84" width="3" height="14" fill="#000"/><rect x="655" y="107" width="4" height="4" fill="#000"/><rect x="659.5" y="84.5" width="2" height="25" fill="#fff" fill-opacity="0.6" stroke="#000" stroke-width="1"/><rect x="662" y="82" width="3" height="17" fill="#000"/><rect x="665" y="104" width="4" height="12" fill="#000"/><rect x="669" y="126" width="3" height="8" fill="#000"/><rect x="672.5" y="105.5" width="2" height="16" fill="#fff" fill-opacity="0.6" stroke="#000" stroke-width="1"/><rect x="675.5" y="89.5" width="3" height="15" fill="#fff" fill-opacity="0.6" stroke="#000" stroke-width="1"/><rect x="679.5" y="79.5" width="2" height="6" fill="#fff" fill-opacity="0.6" stroke="#000" stroke-width="1"/><rect x="682.5" y="58.5" width="2" height="17" fill="#fff" fill-opacity="0.6" stroke="#000" stroke-width="1"/><rect x="685" y="55" width="4" height="3" fill="#000"/><rect x="689.5" y="55.5" width="2" height="2" fill="#fff" fill-opacity="0.6" stroke="#000" stroke-width="1"/><rect x="692" y="56" width="3" height="6" fill="#000"/><rect x="695" y="63" width="4" height="2" fill="#000"/><rect x="699.5" y="55.5" width="2" height="6" fill="#fff" fill-opacity="0.6" stroke="#000" stroke-width="1"/><rect x="702" y="52" width="3" height="5" fill="#000"/><rect x="705" y="58" width="4" height="30" fill="#000"/><rect x="709" y="89" width="3" height="2" fill="#000"/><rect x="712" y="88" width="3" height="10" fill="#000"/><rect x="715.5" y="98.5" width="3" height="4" fill="#fff" fill-opacity="0.6" stroke="#000" stroke-width="1"/><rect x="719.5" y="83.5" width="2" height="14" fill="#fff" fill-opacity="0.6" stroke="#000" stroke-width="1"/><rect x="722" y="78" width="3" height="2" fill="#000"/><rect x="725" y="76" width="4" height="25" fill="#000"/><rect x="729.5" y="100.5" width="2" height="8" fill="#fff" fill-opacity="0.6" stroke="#000" stroke-width="1"/><rect x="732" y="111" width="3" height="22" fill="#000"/><rect x="735" y="126" width="4" height="20" fill="#000"/><rect x="739" y="140" width="3" height="24" fill="#000"/><rect x="742" y="167" width="3" height="27" fill="#000"/><rect x="745.5" y="189.5" width="3" height="19" fill="#fff" fill-opacity="0.6" stroke="#000" stroke-width="1"/><rect x="749" y="205" width="3" height="4" fill="#000"/><rect x="752" y="190" width="3" height="21" fill="#000"/><rect x="755" y="200" width="4" height="20" fill="#000"/><rect x="759.5" y="186.5" width="2" height="29" fill="#fff" fill-opacity="0.6" stroke="#000" stroke-width="1"/><rect x="762.5" y="151.5" width="2" height="29" fill="#fff" fill-opacity="0.6" stroke="#000" stroke-width="1"/><rect x="765.5" y="140.5" width="3" height="9" fill="#fff" fill-opacity="0.6" stroke="#000" stroke-width="1"/><rect x="769.5" y="125.5" width="2" height="8" fill="#fff" fill-opacity="0.6" stroke="#000" stroke-width="1"/><rect x="772" y="143" width="3" height="23" fill="#000"/><rect x="775.5" y="158.5" width="3" height="4" fill="#fff" fill-opacity="0.6" stroke="#000" stroke-width="1"/><rect x="779" y="155" width="3" height="9" fill="#000"/><rect x="782.5" y="150.5" width="2" height="14" fill="#fff" fill-opacity="0.6" stroke="#000" stroke-width="1"/><rect x="785.5" y="126.5" width="3" height="13" fill="#fff" fill-opacity="0.6" stroke="#000" stroke-width="1"/><rect x="789" y="138" width="3" height="18" fill="#000"/><rect x="792" y="155" width="3" height="32" fill="#000"/><rect x="795" y="188" width="4" height="4" fill="#000"/><rect x="799.5" y="167.5" width="2" height="14" fill="#fff" fill-opacity="0.6" stroke="#000" stroke-width="1"/><rect x="802.5" y="167.5" width="2" height="14" fill="#fff" fill-opacity="0.6" stroke="#000" stroke-width="1"/><rect x="805" y="172" width="4" height="29" fill="#000"/><rect x="809" y="198" width="3" height="14" fill="#000"/><rect x="812" y="217" width="3" height="12" fill="#000"/><rect x="815" y="220" width="4" height="40" fill="#000"/><rect x="819.5" y="234.5" width="2" height="49" fill="#fff" fill-opacity="0.6" stroke="#000" stroke-width="1"/><rect x="822.5" y="198.5" width="2" height="31" fill="#fff" fill-opacity="0.6" stroke="#000" stroke-width="1"/><rect x="825.5" y="203.5" width="3" height="5" fill="#fff" fill-opacity="0.6" stroke="#000" stroke-width="1"/><rect x="829" y="198" width="3" height="29" fill="#000"/><rect x="832" y="192" width="3" height="29" fill="#000"/><rect x="835" y="192" width="4" height="14" fill="#000"/><rect x="839" y="214" width="3" height="5" fill="#000"/><rect x="842" y="219" width="3" height="49" fill="#000"/><rect x="845" y="266" width="4" height="13" fill="#000"/><rect x="849.5" y="239.5" width="2" height="18" fill="#fff" fill-opacity="0.6" stroke="#000" stroke-width="1"/><rect x="852.5" y="245.5" width="2" height="4" fill="#fff" fill-opacity="0.6" stroke="#000" stroke-width="1"/><rect x="855" y="237" width="4" height="29" fill="#000"/><rect x="859" y="266" width="3" height="14" fill="#000"/><rect x="862.5" y="243.5" width="2" height="28" fill="#fff" fill-opacity="0.6" stroke="#000" stroke-width="1"/><rect x="865.5" y="208.5" width="3" height="25" fill="#fff" fill-opacity="0.6" stroke="#000" stroke-width="1"/><rect x="869.5" y="188.5" width="2" height="25" fill="#fff" fill-opacity="0.6" stroke="#000" stroke-width="1"/><rect x="872.5" y="170.5" width="2" height="20" fill="#fff" fill-opacity="0.6" stroke="#000" stroke-width="1"/>
<path d="M250.9 422.6 C252.9 421.6 258.1 419.5 263.0 416.8 C267.9 414.1 274.0 410.2 280.0 406.5 C286.0 402.8 292.1 398.9 299.2 394.3 C306.3 389.7 315.0 383.6 322.9 378.9 C330.8 374.1 338.7 370.3 346.6 365.8 C354.5 361.3 364.4 355.4 370.3 351.8 C376.2 348.2 377.7 347.0 382.1 344.2 C386.5 341.4 392.1 338.0 396.7 335.2 C401.3 332.4 402.8 331.3 410.0 327.3 C417.2 323.3 432.8 314.9 440.0 311.1 C447.2 307.3 449.0 306.3 453.5 304.3 C458.0 302.3 462.6 300.8 467.1 298.9 C471.6 297.0 476.1 294.7 480.6 292.8 C485.1 290.9 489.7 289.1 494.2 287.4 C498.7 285.7 503.2 284.4 507.7 282.7 C512.2 281.0 516.8 279.2 521.3 277.2 C525.8 275.2 530.3 272.5 534.8 270.5 C539.3 268.5 544.2 266.9 548.4 265.1 C552.6 263.3 556.4 261.3 560.0 259.6 C563.6 257.9 566.8 256.5 570.2 254.8 C573.6 253.2 576.9 251.4 580.3 249.7 C583.7 248.0 587.1 246.4 590.5 244.7 C593.9 243.0 597.2 241.1 600.6 239.6 C604.0 238.1 607.4 236.8 610.8 235.5 C614.2 234.2 617.5 233.3 620.9 232.0 C624.3 230.7 627.9 228.7 631.1 227.4 C634.3 226.1 635.1 226.5 640.0 224.4 C644.9 222.3 653.9 217.8 660.6 215.0 C667.3 212.2 674.8 209.6 680.0 207.3 C685.2 205.0 688.1 203.1 692.1 201.2 C696.1 199.3 700.2 197.6 704.2 195.8 C708.2 194.0 712.4 192.0 716.4 190.3 C720.4 188.6 724.9 186.7 728.5 185.5 C732.1 184.3 734.2 183.7 738.2 183.0 C742.2 182.3 748.3 181.8 752.7 181.2 C757.1 180.6 760.8 180.1 764.8 179.4 C768.8 178.7 773.0 177.8 777.0 177.0 C781.0 176.2 784.7 175.2 789.1 174.5 C793.5 173.8 798.8 172.9 803.6 172.5 C808.5 172.1 813.9 172.3 818.2 171.9 C822.5 171.5 825.3 170.6 829.3 170.2 C833.3 169.8 837.9 169.6 842.2 169.3 C846.5 169.0 849.9 168.5 855.1 168.2 C860.3 167.9 870.5 167.5 873.6 167.4" stroke="#0a6e0a" stroke-width="1.1" fill="none" stroke-linejoin="round"/>
<path d="M166.1 422.3 C168.1 421.6 174.2 419.9 178.2 418.0 C182.2 416.1 186.3 413.0 190.3 410.8 C194.3 408.6 198.4 406.7 202.4 404.7 C206.4 402.7 210.4 400.6 214.5 398.6 C218.6 396.6 222.6 394.7 226.7 392.6 C230.8 390.5 234.8 388.0 238.8 385.9 C242.8 383.8 246.9 381.9 250.9 379.8 C254.9 377.7 258.1 375.8 263.0 373.2 C267.9 370.6 275.5 366.5 280.0 364.1 C284.5 361.7 286.3 360.9 290.0 358.8 C293.7 356.7 298.1 353.8 302.1 351.5 C306.1 349.2 310.1 346.9 314.2 344.8 C318.2 342.7 322.3 341.1 326.4 339.0 C330.4 336.9 334.5 334.2 338.5 332.1 C342.5 330.0 346.6 328.1 350.6 326.1 C354.6 324.1 358.7 322.1 362.7 320.0 C366.7 317.9 370.8 315.4 374.8 313.3 C378.9 311.2 382.8 309.5 387.0 307.3 C391.2 305.1 394.8 303.0 400.3 300.0 C405.8 297.0 413.4 292.9 420.0 289.5 C426.6 286.1 434.4 281.9 440.0 279.3 C445.6 276.7 449.0 275.6 453.5 273.9 C458.0 272.2 462.6 270.5 467.1 269.1 C471.6 267.7 476.1 266.8 480.6 265.7 C485.1 264.6 489.7 263.1 494.2 262.3 C498.7 261.5 503.2 261.9 507.7 261.0 C512.2 260.1 516.8 258.6 521.3 256.9 C525.8 255.2 530.3 252.7 534.8 250.8 C539.3 248.9 544.2 247.2 548.4 245.4 C552.6 243.7 556.4 242.0 560.0 240.3 C563.6 238.7 566.8 237.1 570.2 235.5 C573.6 233.9 576.9 232.3 580.3 230.5 C583.7 228.7 587.1 226.6 590.5 224.9 C593.9 223.2 597.0 222.0 600.6 220.3 C604.2 218.7 606.8 217.3 612.1 215.0 C617.5 212.7 627.2 208.4 632.7 206.2 C638.2 204.0 640.8 203.5 644.8 202.0 C648.8 200.5 651.1 199.0 657.0 197.1 C662.9 195.2 674.1 192.2 680.0 190.3 C685.9 188.4 688.1 187.3 692.1 185.5 C696.1 183.7 700.2 181.1 704.2 179.4 C708.2 177.7 712.8 176.5 716.4 175.2 C720.0 173.9 723.1 172.3 726.1 171.5 C729.1 170.7 731.1 170.5 734.5 170.3 C737.9 170.1 742.7 170.0 746.7 170.3 C750.8 170.6 754.8 171.9 758.8 172.1 C762.8 172.2 766.9 171.5 770.9 171.2 C774.9 170.9 779.0 170.4 783.0 170.3 C787.0 170.2 790.9 170.4 795.0 170.4 C799.1 170.4 804.0 170.1 807.9 170.4 C811.8 170.7 813.5 171.4 818.2 172.3 C822.9 173.2 830.0 174.8 836.0 176.0 C842.0 177.2 849.6 178.6 854.2 179.6 C858.8 180.6 860.5 181.7 863.7 182.2 C866.9 182.7 872.0 182.4 873.6 182.4" stroke="#ff1aff" stroke-width="1.1" fill="none" stroke-linejoin="round"/>
<path d="M78.4 422.6 C79.3 421.8 81.5 419.7 84.0 417.9 C86.5 416.1 90.0 414.2 93.3 411.9 C96.5 409.6 99.6 406.6 103.5 404.2 C107.4 401.8 112.8 399.5 116.5 397.4 C120.2 395.3 122.7 393.3 125.8 391.4 C128.9 389.5 132.0 387.7 135.1 385.8 C138.2 383.9 141.9 381.5 144.4 379.8 C146.9 378.1 147.1 377.2 150.0 375.5 C152.9 373.8 158.1 371.5 162.1 369.4 C166.1 367.3 170.1 364.9 174.2 362.7 C178.2 360.5 182.3 358.4 186.4 356.1 C190.5 353.8 194.5 351.0 198.5 348.8 C202.5 346.6 206.6 344.6 210.6 342.7 C214.6 340.8 218.7 339.1 222.7 337.3 C226.7 335.5 230.8 333.6 234.8 331.8 C238.9 330.0 242.9 328.5 247.0 326.4 C251.1 324.3 255.3 321.3 259.1 319.1 C262.9 316.9 265.8 315.7 270.0 313.4 C274.2 311.1 279.6 308.1 284.4 305.5 C289.2 302.9 294.0 300.1 298.8 297.6 C303.6 295.1 308.4 293.0 313.2 290.4 C318.0 287.8 322.8 284.7 327.6 281.8 C332.4 278.9 337.1 275.9 341.9 273.1 C346.7 270.3 351.5 268.1 356.3 265.2 C361.1 262.3 366.4 258.4 370.7 255.9 C375.0 253.4 378.8 251.8 382.1 250.0 C385.4 248.2 387.2 246.7 390.6 244.8 C394.0 242.9 398.7 240.7 402.7 238.8 C406.7 236.9 410.8 235.0 414.8 233.3 C418.9 231.6 422.9 229.9 427.0 228.5 C431.1 227.1 435.0 226.2 439.1 224.8 C443.2 223.4 447.4 221.2 451.9 219.9 C456.4 218.6 461.5 217.9 466.3 216.7 C471.1 215.4 475.1 213.7 480.7 212.4 C486.3 211.2 494.4 210.4 500.0 209.2 C505.6 208.0 509.6 207.0 514.4 205.4 C519.2 203.8 524.0 201.4 528.8 199.6 C533.6 197.8 538.4 196.4 543.2 194.6 C548.0 192.8 552.8 190.6 557.6 188.8 C562.4 187.0 567.7 185.7 572.1 183.8 C576.5 182.0 580.2 179.6 584.2 177.7 C588.2 175.8 592.4 174.1 596.4 172.3 C600.4 170.5 604.5 168.5 608.5 166.8 C612.5 165.1 616.6 163.1 620.6 162.0 C624.6 160.9 628.7 161.2 632.7 160.2 C636.7 159.2 640.8 157.2 644.8 155.9 C648.8 154.6 653.0 153.4 657.0 152.3 C661.0 151.2 665.3 150.1 669.1 149.2 C672.9 148.3 676.2 147.8 680.0 146.8 C683.8 145.8 686.8 145.0 692.1 143.2 C697.4 141.4 705.0 138.1 712.0 136.0 C719.0 133.9 729.1 131.3 733.9 130.4 C738.7 129.5 737.5 130.0 740.6 130.4 C743.7 130.8 748.7 132.3 752.7 132.8 C756.7 133.3 760.8 133.5 764.8 133.5 C768.8 133.5 772.8 133.1 777.0 132.8 C781.2 132.5 784.6 131.8 790.2 131.5 C795.8 131.2 802.7 131.3 810.5 131.3 C818.3 131.3 830.1 130.9 836.9 131.3 C843.7 131.7 847.0 133.0 851.1 133.8 C855.2 134.7 857.5 135.5 861.2 136.4 C864.9 137.3 871.4 138.9 873.4 139.4" stroke="#e8141e" stroke-width="1.1" fill="none" stroke-linejoin="round"/>
<path d="M32.7 401.3 C35.0 400.6 41.2 398.9 46.2 397.2 C51.2 395.5 58.5 392.9 62.5 391.2 C66.5 389.5 67.5 388.6 70.0 387.2 C72.5 385.8 75.1 384.8 77.4 383.0 C79.7 381.2 81.8 378.7 84.0 376.5 C86.2 374.3 88.7 371.5 90.5 370.0 C92.3 368.5 91.5 369.6 95.0 367.5 C98.5 365.4 105.8 360.5 111.2 357.1 C116.6 353.7 122.0 350.8 127.4 347.1 C132.8 343.4 138.6 338.8 143.7 335.0 C148.8 331.2 154.8 327.0 158.2 324.4 C161.6 321.8 161.2 321.6 164.2 319.5 C167.2 317.4 172.3 314.1 176.4 311.7 C180.5 309.3 184.5 307.1 188.5 305.0 C192.5 302.9 196.6 301.3 200.6 298.9 C204.6 296.5 208.7 293.3 212.7 290.5 C216.7 287.7 221.6 284.1 224.8 282.0 C228.0 279.9 229.1 278.9 232.1 277.7 C235.1 276.5 238.3 275.9 243.0 274.7 C247.7 273.5 255.5 271.7 260.0 270.5 C264.5 269.3 265.9 269.0 270.0 267.4 C274.1 265.8 279.6 262.9 284.4 260.9 C289.2 258.8 294.7 256.5 298.8 255.1 C302.9 253.7 305.2 253.2 308.8 252.3 C312.4 251.4 316.9 251.2 320.4 249.4 C323.9 247.7 326.4 244.2 330.0 241.8 C333.6 239.4 338.1 237.5 342.1 235.2 C346.1 232.9 350.1 230.2 354.2 227.9 C358.2 225.6 362.3 223.2 366.4 221.2 C370.4 219.2 374.5 217.6 378.5 215.8 C382.5 214.0 386.6 212.3 390.6 210.3 C394.6 208.3 398.7 206.0 402.7 203.6 C406.7 201.2 410.8 198.2 414.8 195.8 C418.9 193.4 422.9 191.0 427.0 189.1 C431.1 187.2 435.0 185.6 439.1 184.2 C443.2 182.8 446.1 181.8 451.9 180.6 C457.7 179.4 466.1 177.3 474.1 177.1 C482.1 176.9 493.3 179.0 500.0 179.5 C506.7 180.0 509.6 180.4 514.4 180.2 C519.2 180.0 524.0 178.9 528.8 178.1 C533.6 177.3 538.0 176.6 543.2 175.2 C548.4 173.8 555.2 171.7 560.0 169.8 C564.8 167.9 568.1 165.4 572.1 163.8 C576.1 162.2 580.2 161.5 584.2 160.2 C588.2 158.9 592.4 157.6 596.4 155.9 C600.4 154.2 604.5 151.6 608.5 149.8 C612.5 148.0 615.4 146.9 620.6 145.0 C625.9 143.1 635.4 140.4 640.0 138.6 C644.6 136.8 643.4 137.0 648.0 134.0 C652.6 131.0 662.2 124.3 667.5 120.8 C672.8 117.3 675.9 115.4 680.0 112.8 C684.1 110.2 688.1 107.3 692.1 105.0 C696.1 102.7 700.2 100.5 704.2 98.9 C708.2 97.3 711.5 96.3 716.4 95.5 C721.2 94.7 728.9 93.6 733.3 94.1 C737.7 94.6 739.8 96.5 743.0 98.3 C746.2 100.1 750.3 103.5 752.7 105.0 C755.1 106.5 752.1 105.3 757.6 107.4 C763.1 109.5 778.9 115.6 786.0 117.8 C793.1 120.0 796.2 119.2 800.3 120.6 C804.4 122.0 807.1 124.0 810.5 126.2 C813.9 128.4 817.2 131.3 820.6 133.8 C824.0 136.3 827.9 139.6 830.8 141.4 C833.7 143.2 835.4 142.6 837.9 144.5 C840.4 146.4 843.0 149.5 846.0 152.6 C849.0 155.7 853.7 160.0 856.1 162.8 C858.5 165.6 857.3 166.2 860.2 169.3 C863.1 172.4 871.4 179.2 873.6 181.2" stroke="#141496" stroke-width="1.1" fill="none" stroke-linejoin="round"/>
</g>
<rect x="34" y="30" width="133" height="10" fill="url(#gp)"/>
<text x="47.5" y="39.0" font-size="9.8" fill="#000" style="font-family:&quot;Liberation Mono&quot;,monospace">$SPX (Daily) 4463.12</text>
<g fill="#000"><rect x="35.5" y="32" width="2" height="7"/><rect x="38.5" y="32.5" width="3" height="6"/><rect x="42" y="32" width="2" height="7"/></g>
<rect x="34" y="41.8" width="87.60000000000001" height="10.5" fill="url(#gp)"/>
<text x="45.8" y="49.8" font-size="9.3" fill="#00008a" letter-spacing="0.15">MA(50) 4432.72</text>
<rect x="35" y="45.199999999999996" width="9" height="2" fill="#00008a"/>
<rect x="34" y="52.6" width="93.0" height="10.5" fill="url(#gp)"/>
<text x="45.8" y="60.6" font-size="9.3" fill="#dd0000" letter-spacing="0.15">MA(100) 4551.15</text>
<rect x="35" y="56.0" width="9" height="2" fill="#dd0000"/>
<rect x="34" y="63.400000000000006" width="93.0" height="10.5" fill="url(#gp)"/>
<text x="45.8" y="71.4" font-size="9.3" fill="#005c00" letter-spacing="0.15">MA(200) 4470.46</text>
<rect x="35" y="66.80000000000001" width="9" height="2" fill="#005c00"/>
<rect x="34" y="74.2" width="98.4" height="10.5" fill="url(#gp)"/>
<text x="45.8" y="82.2" font-size="9.3" fill="#ff00ff" letter-spacing="0.15">EMA(165) 4428.64</text>
<rect x="35" y="77.60000000000001" width="9" height="2" fill="#ff00ff"/>
<rect x="34" y="85.0" width="120.0" height="10.5" fill="url(#gp)"/>
<text x="45.8" y="93.0" font-size="9.3" fill="#2a86bc" letter-spacing="0.15">Volume 4,127,365,376</text>
<g fill="#d0b040"><rect x="35.5" y="88" width="1" height="5"/><rect x="38" y="86" width="1" height="7"/><rect x="40.5" y="89" width="1" height="4"/></g>
<path d="M28.3 411.0 H42.3 L47.3 406.5 L52.3 411.0 H64.3 V421.0 H28.3 Z" fill="#d8f4f4" stroke="#a8c8d0" stroke-width="1"/>
<text x="46.3" y="419.4" font-size="9" fill="#000" text-anchor="middle" stroke="#000" stroke-width="0.3">3853.50</text>
<path d="M138.9 327.3 H151.9 L156.9 322.8 L161.9 327.3 H174.9 V337.3 H138.9 Z" fill="#d8f4f4" stroke="#a8c8d0" stroke-width="1"/>
<text x="156.9" y="335.7" font-size="9" fill="#000" text-anchor="middle" stroke="#000" stroke-width="0.3">4056.88</text>
<path d="M128.9 238.0 H164.9 V248.0 H151.9 L146.9 252.5 L141.9 248.0 H128.9 Z" fill="#d8f4f4" stroke="#a8c8d0" stroke-width="1"/>
<text x="146.9" y="246.4" font-size="9" fill="#000" text-anchor="middle" stroke="#000" stroke-width="0.3">4238.04</text>
<path d="M292.6 260.0 H305.6 L310.6 255.5 L315.6 260.0 H328.6 V270.0 H292.6 Z" fill="#d8f4f4" stroke="#a8c8d0" stroke-width="1"/>
<text x="310.6" y="268.4" font-size="9" fill="#000" text-anchor="middle" stroke="#000" stroke-width="0.3">4233.13</text>
<path d="M282.3 179.9 H318.3 V189.9 H305.3 L300.3 194.4 L295.3 189.9 H282.3 Z" fill="#d8f4f4" stroke="#a8c8d0" stroke-width="1"/>
<text x="300.3" y="188.3" font-size="9" fill="#000" text-anchor="middle" stroke="#000" stroke-width="0.3">4393.68</text>
<path d="M402.5 125.80000000000001 H438.5 V135.8 H425.5 L420.5 140.3 L415.5 135.8 H402.5 Z" fill="#d8f4f4" stroke="#a8c8d0" stroke-width="1"/>
<text x="420.5" y="134.20000000000002" font-size="9" fill="#000" text-anchor="middle" stroke="#000" stroke-width="0.3">4545.85</text>
<path d="M472.4 242.6 H485.4 L490.4 238.1 L495.4 242.6 H508.4 V252.6 H472.4 Z" fill="#d8f4f4" stroke="#a8c8d0" stroke-width="1"/>
<text x="490.4" y="251.0" font-size="9" fill="#000" text-anchor="middle" stroke="#000" stroke-width="0.3">4278.94</text>
<path d="M589.5 56.7 H625.5 V66.7 H612.5 L607.5 71.2 L602.5 66.7 H589.5 Z" fill="#d8f4f4" stroke="#a8c8d0" stroke-width="1"/>
<text x="607.5" y="65.10000000000001" font-size="9" fill="#000" text-anchor="middle" stroke="#000" stroke-width="0.3">4743.83</text>
<path d="M614.7 164.3 H627.7 L632.7 159.8 L637.7 164.3 H650.7 V174.3 H614.7 Z" fill="#d8f4f4" stroke="#a8c8d0" stroke-width="1"/>
<text x="632.7" y="172.70000000000002" font-size="9" fill="#000" text-anchor="middle" stroke="#000" stroke-width="0.3">4495.12</text>
<path d="M652.3 152.0 H665.3 L670.3 147.5 L675.3 152.0 H688.3 V162.0 H652.3 Z" fill="#d8f4f4" stroke="#a8c8d0" stroke-width="1"/>
<text x="670.3" y="160.4" font-size="9" fill="#000" text-anchor="middle" stroke="#000" stroke-width="0.3">4531.10</text>
<path d="M645.5 60.900000000000006 H681.5 V70.9 H668.5 L663.5 75.4 L658.5 70.9 H645.5 Z" fill="#d8f4f4" stroke="#a8c8d0" stroke-width="1"/>
<text x="663.5" y="69.30000000000001" font-size="9" fill="#000" text-anchor="middle" stroke="#000" stroke-width="0.3">4731.99</text>
<path d="M685.4 32.3 H721.4 V42.3 H708.4 L703.4 46.8 L698.4 42.3 H685.4 Z" fill="#d8f4f4" stroke="#a8c8d0" stroke-width="1"/>
<text x="703.4" y="40.699999999999996" font-size="9" fill="#000" text-anchor="middle" stroke="#000" stroke-width="0.3">4818.62</text>
<path d="M699.6 133.9 H712.6 L717.6 129.4 L722.6 133.9 H735.6 V143.9 H699.6 Z" fill="#d8f4f4" stroke="#a8c8d0" stroke-width="1"/>
<text x="717.6" y="142.3" font-size="9" fill="#000" text-anchor="middle" stroke="#000" stroke-width="0.3">4582.24</text>
<path d="M729.1 263.3 H742.1 L747.1 258.8 L752.1 263.3 H765.1 V273.3 H729.1 Z" fill="#d8f4f4" stroke="#a8c8d0" stroke-width="1"/>
<text x="747.1" y="271.7" font-size="9" fill="#000" text-anchor="middle" stroke="#000" stroke-width="0.3">4222.62</text>
<path d="M752.3 108.0 H788.3 V118.0 H775.3 L770.3 122.5 L765.3 118.0 H752.3 Z" fill="#d8f4f4" stroke="#a8c8d0" stroke-width="1"/>
<text x="770.3" y="116.4" font-size="9" fill="#000" text-anchor="middle" stroke="#000" stroke-width="0.3">4595.31</text>
<path d="M819.6 171.5 H855.6 V181.5 H842.6 L837.6 186 L832.6 181.5 H819.6 Z" fill="#d8f4f4" stroke="#a8c8d0" stroke-width="1"/>
<text x="837.6" y="179.9" font-size="9" fill="#000" text-anchor="middle" stroke="#000" stroke-width="0.3">4416.78</text>
<path d="M802.3 305.7 H815.3 L820.3 301.2 L825.3 305.7 H838.3 V315.7 H802.3 Z" fill="#d8f4f4" stroke="#a8c8d0" stroke-width="1"/>
<text x="820.3" y="314.09999999999997" font-size="9" fill="#000" text-anchor="middle" stroke="#000" stroke-width="0.3">4114.65</text>
<path d="M829.2 288.8 H842.2 L847.2 284.3 L852.2 288.8 H865.2 V298.8 H829.2 Z" fill="#d8f4f4" stroke="#a8c8d0" stroke-width="1"/>
<text x="847.2" y="297.2" font-size="9" fill="#000" text-anchor="middle" stroke="#000" stroke-width="0.3">4157.87</text>
<g stroke="#ff0000" fill="none" stroke-linecap="butt">
<path d="M32 245.3 H946" stroke-width="3.2" stroke-dasharray="4 2"/>
<path d="M703.1 47.8 L966.7 281.2" stroke-width="3.7" stroke-dasharray="3.9 1.98" stroke-dashoffset="5.18"/>
<path d="M630.8 156.6 L966.3 452.4" stroke-width="3.7" stroke-dasharray="3.9 1.98" stroke-dashoffset="3.38"/>
</g>
<path d="M517.6 69.2 C520.6 65.9 528.6 56.0 535.4 49.5 C542.2 43.0 550.9 36.0 558.3 30.5 C565.7 25.0 573.0 20.3 580.0 16.7 C587.0 13.0 593.5 10.6 600.2 8.6 C606.9 6.6 613.7 5.4 620.4 4.5 C627.1 3.6 633.9 3.2 640.6 3.2 C647.3 3.2 654.2 3.9 660.8 4.5 C667.4 5.1 673.4 5.7 680.0 6.9 C686.6 8.1 693.5 9.5 700.3 11.6 C707.0 13.7 713.8 16.8 720.5 19.7 C727.2 22.6 734.6 26.4 740.7 29.3 C746.8 32.2 754.2 35.9 756.9 37.2" stroke="#ff0a0a" stroke-width="3.8" fill="none" stroke-linecap="butt"/>
<text x="950" y="408.8" font-size="9.6" letter-spacing="0.45" fill="#000">3850</text><path d="M946.5 406.5H949" stroke="#96aeb4" stroke-width="1"/><text x="950" y="388.2" font-size="9.6" letter-spacing="0.45" fill="#000">3900</text><path d="M946.5 385.5H949" stroke="#96aeb4" stroke-width="1"/><text x="950" y="367.8" font-size="9.6" letter-spacing="0.45" fill="#000">3950</text><path d="M946.5 365.5H949" stroke="#96aeb4" stroke-width="1"/><text x="950" y="347.7" font-size="9.6" letter-spacing="0.45" fill="#000">4000</text><path d="M946.5 345.5H949" stroke="#96aeb4" stroke-width="1"/><text x="950" y="327.9" font-size="9.6" letter-spacing="0.45" fill="#000">4050</text><path d="M946.5 325.5H949" stroke="#96aeb4" stroke-width="1"/><text x="950" y="308.3" font-size="9.6" letter-spacing="0.45" fill="#000">4100</text><path d="M946.5 305.5H949" stroke="#96aeb4" stroke-width="1"/><text x="950" y="288.9" font-size="9.6" letter-spacing="0.45" fill="#000">4150</text><path d="M946.5 286.5H949" stroke="#96aeb4" stroke-width="1"/><text x="950" y="269.8" font-size="9.6" letter-spacing="0.45" fill="#000">4200</text><path d="M946.5 267.5H949" stroke="#96aeb4" stroke-width="1"/><text x="950" y="250.9" font-size="9.6" letter-spacing="0.45" fill="#000">4250</text><path d="M946.5 248.5H949" stroke="#96aeb4" stroke-width="1"/><text x="950" y="232.2" font-size="9.6" letter-spacing="0.45" fill="#000">4300</text><path d="M946.5 229.5H949" stroke="#96aeb4" stroke-width="1"/><text x="950" y="213.7" font-size="9.6" letter-spacing="0.45" fill="#000">4350</text><path d="M946.5 211.5H949" stroke="#96aeb4" stroke-width="1"/><text x="950" y="195.5" font-size="9.6" letter-spacing="0.45" fill="#000">4400</text><path d="M946.5 193.5H949" stroke="#96aeb4" stroke-width="1"/><text x="950" y="177.4" font-size="9.6" letter-spacing="0.45" fill="#000">4450</text><path d="M946.5 175.5H949" stroke="#96aeb4" stroke-width="1"/><text x="950" y="159.6" font-size="9.6" letter-spacing="0.45" fill="#000">4500</text><path d="M946.5 157.5H949" stroke="#96aeb4" stroke-width="1"/><text x="950" y="141.9" font-size="9.6" letter-spacing="0.45" fill="#000">4550</text><path d="M946.5 139.5H949" stroke="#96aeb4" stroke-width="1"/><text x="950" y="124.4" font-size="9.6" letter-spacing="0.45" fill="#000">4600</text><path d="M946.5 122.5H949" stroke="#96aeb4" stroke-width="1"/><text x="950" y="107.2" font-size="9.6" letter-spacing="0.45" fill="#000">4650</text><path d="M946.5 104.5H949" stroke="#96aeb4" stroke-width="1"/><text x="950" y="90.1" font-size="9.6" letter-spacing="0.45" fill="#000">4700</text><path d="M946.5 87.5H949" stroke="#96aeb4" stroke-width="1"/><text x="950" y="73.2" font-size="9.6" letter-spacing="0.45" fill="#000">4750</text><path d="M946.5 70.5H949" stroke="#96aeb4" stroke-width="1"/><text x="950" y="56.4" font-size="9.6" letter-spacing="0.45" fill="#000">4800</text><path d="M946.5 54.5H949" stroke="#96aeb4" stroke-width="1"/><text x="950" y="39.9" font-size="9.6" letter-spacing="0.45" fill="#000">4850</text><path d="M946.5 37.5H949" stroke="#96aeb4" stroke-width="1"/>
<text x="29" y="402.1" font-size="9.6" letter-spacing="0.4" fill="#000" text-anchor="end">1B</text>
<path d="M29.5 399.5H32" stroke="#96aeb4" stroke-width="1"/>
<text x="29" y="378.6" font-size="9.6" letter-spacing="0.4" fill="#000" text-anchor="end">2B</text>
<path d="M29.5 375.5H32" stroke="#96aeb4" stroke-width="1"/>
<text x="29" y="355.1" font-size="9.6" letter-spacing="0.4" fill="#000" text-anchor="end">3B</text>
<path d="M29.5 352.5H32" stroke="#96aeb4" stroke-width="1"/>
<text x="29" y="331.6" font-size="9.6" letter-spacing="0.4" fill="#000" text-anchor="end">4B</text>
<path d="M29.5 328.5H32" stroke="#96aeb4" stroke-width="1"/>
<text x="29" y="308.1" font-size="9.6" letter-spacing="0.4" fill="#000" text-anchor="end">5B</text>
<path d="M29.5 305.5H32" stroke="#96aeb4" stroke-width="1"/>
<path d="M944.2 138.5 L947.2 133.35 H994.2 V143.65 H947.2 Z" fill="#e0f8f8" stroke="#e00000" stroke-width="1.1"/>
<text x="949.2" y="142.0" font-size="9.6" letter-spacing="0.6" fill="#000" font-weight="normal">4551.15</text>
<path d="M944.2 166.5 L947.2 161.35 H994.2 V171.65 H947.2 Z" fill="#e0f8f8" stroke="#006400" stroke-width="1.1"/>
<text x="949.2" y="170.0" font-size="9.6" letter-spacing="0.6" fill="#000" font-weight="normal">4470.46</text>
<path d="M944.2 182.0 L947.2 176.85 H994.2 V187.15 H947.2 Z" fill="#e0f8f8" stroke="#ff00ff" stroke-width="1.1"/>
<text x="949.2" y="185.5" font-size="9.6" letter-spacing="0.6" fill="#000" font-weight="normal">4428.64</text>
<path d="M944.2 169.8 L947.2 164.65 H994.2 V174.95000000000002 H947.2 Z" fill="#e0f8f8" stroke="#000" stroke-width="1.1"/>
<text x="949.2" y="173.3" font-size="9.6" letter-spacing="0.6" fill="#000" font-weight="bold">4463.12</text>
<path d="M944.2 180.0 L947.2 174.85 H994.2 V185.15 H947.2 Z" fill="#e0f8f8" stroke="#2020c0" stroke-width="1.1"/>
<text x="949.2" y="183.5" font-size="9.6" letter-spacing="0.6" fill="#000" font-weight="normal">4432.72</text>
<path d="M945 324.4 L948 319.4 H991 V329.4 H948 Z" fill="#d8f8f8" stroke="#eadfa8" stroke-width="1"/>
<text x="949" y="328.2" font-size="9.6" letter-spacing="0.75" fill="#000">4127365</text>
<path d="M33.5 424v1 M37.5 424v1 M40.5 424v1 M43.5 424v1 M47.5 424v1 M50.5 424v1 M53.5 424v1 M57.5 424v1 M60.5 424v1 M63.5 424v1 M67.5 424v1 M70.5 424v1 M73.5 424v1 M77.5 424v1 M80.5 424v1 M83.5 424v1 M87.5 424v1 M90.5 424v1 M93.5 424v1 M97.5 424v1 M100.5 424v1 M103.5 424v1 M107.5 424v1 M110.5 424v1 M113.5 424v1 M117.5 424v1 M120.5 424v1 M123.5 424v1 M127.5 424v1 M130.5 424v1 M133.5 424v1 M137.5 424v1 M140.5 424v1 M143.5 424v1 M147.5 424v1 M150.5 424v1 M153.5 424v1 M157.5 424v1 M160.5 424v1 M163.5 424v1 M167.5 424v1 M170.5 424v1 M173.5 424v1 M177.5 424v1 M180.5 424v1 M183.5 424v1 M187.5 424v1 M190.5 424v1 M193.5 424v1 M197.5 424v1 M200.5 424v1 M203.5 424v1 M207.5 424v1 M210.5 424v1 M213.5 424v1 M217.5 424v1 M220.5 424v1 M223.5 424v1 M227.5 424v1 M230.5 424v1 M233.5 424v1 M237.5 424v1 M240.5 424v1 M243.5 424v1 M247.5 424v1 M250.5 424v1 M253.5 424v1 M257.5 424v1 M260.5 424v1 M263.5 424v1 M267.5 424v1 M270.5 424v1 M273.5 424v1 M277.5 424v1 M280.5 424v1 M283.5 424v1 M287.5 424v1 M290.5 424v1 M293.5 424v1 M297.5 424v1 M300.5 424v1 M303.5 424v1 M307.5 424v1 M310.5 424v1 M313.5 424v1 M317.5 424v1 M320.5 424v1 M323.5 424v1 M327.5 424v1 M330.5 424v1 M333.5 424v1 M337.5 424v1 M340.5 424v1 M343.5 424v1 M347.5 424v1 M350.5 424v1 M353.5 424v1 M357.5 424v1 M360.5 424v1 M363.5 424v1 M367.5 424v1 M370.5 424v1 M373.5 424v1 M377.5 424v1 M380.5 424v1 M383.5 424v1 M387.5 424v1 M390.5 424v1 M393.5 424v1 M397.5 424v1 M400.5 424v1 M403.5 424v1 M407.5 424v1 M410.5 424v1 M413.5 424v1 M417.5 424v1 M420.5 424v1 M423.5 424v1 M427.5 424v1 M430.5 424v1 M433.5 424v1 M437.5 424v1 M440.5 424v1 M443.5 424v1 M447.5 424v1 M450.5 424v1 M453.5 424v1 M457.5 424v1 M460.5 424v1 M463.5 424v1 M467.5 424v1 M470.5 424v1 M473.5 424v1 M477.5 424v1 M480.5 424v1 M483.5 424v1 M487.5 424v1 M490.5 424v1 M493.5 424v1 M497.5 424v1 M500.5 424v1 M503.5 424v1 M507.5 424v1 M510.5 424v1 M513.5 424v1 M517.5 424v1 M520.5 424v1 M523.5 424v1 M527.5 424v1 M530.5 424v1 M534.5 424v1 M537.5 424v1 M540.5 424v1 M544.5 424v1 M547.5 424v1 M550.5 424v1 M554.5 424v1 M557.5 424v1 M560.5 424v1 M564.5 424v1 M567.5 424v1 M570.5 424v1 M574.5 424v1 M577.5 424v1 M580.5 424v1 M584.5 424v1 M587.5 424v1 M590.5 424v1 M594.5 424v1 M597.5 424v1 M600.5 424v1 M604.5 424v1 M607.5 424v1 M610.5 424v1 M614.5 424v1 M617.5 424v1 M620.5 424v1 M624.5 424v1 M627.5 424v1 M630.5 424v1 M634.5 424v1 M637.5 424v1 M640.5 424v1 M644.5 424v1 M647.5 424v1 M650.5 424v1 M654.5 424v1 M657.5 424v1 M660.5 424v1 M664.5 424v1 M667.5 424v1 M670.5 424v1 M674.5 424v1 M677.5 424v1 M680.5 424v1 M684.5 424v1 M687.5 424v1 M690.5 424v1 M694.5 424v1 M697.5 424v1 M700.5 424v1 M704.5 424v1 M707.5 424v1 M710.5 424v1 M714.5 424v1 M717.5 424v1 M720.5 424v1 M724.5 424v1 M727.5 424v1 M730.5 424v1 M734.5 424v1 M737.5 424v1 M740.5 424v1 M744.5 424v1 M747.5 424v1 M750.5 424v1 M754.5 424v1 M757.5 424v1 M760.5 424v1 M764.5 424v1 M767.5 424v1 M770.5 424v1 M774.5 424v1 M777.5 424v1 M780.5 424v1 M784.5 424v1 M787.5 424v1 M790.5 424v1 M794.5 424v1 M797.5 424v1 M800.5 424v1 M804.5 424v1 M807.5 424v1 M810.5 424v1 M814.5 424v1 M817.5 424v1 M820.5 424v1 M824.5 424v1 M827.5 424v1 M830.5 424v1 M834.5 424v1 M837.5 424v1 M840.5 424v1 M844.5 424v1 M847.5 424v1 M850.5 424v1 M854.5 424v1 M857.5 424v1 M860.5 424v1 M864.5 424v1 M867.5 424v1 M870.5 424v1 M874.5 424v1 M877.5 424v1 M880.5 424v1 M884.5 424v1 M887.5 424v1 M890.5 424v1 M894.5 424v1 M897.5 424v1 M900.5 424v1 M904.5 424v1 M907.5 424v1 M910.5 424v1 M914.5 424v1 M917.5 424v1 M920.5 424v1 M924.5 424v1 M927.5 424v1 M930.5 424v1 M934.5 424v1 M937.5 424v1 M940.5 424v1 M944.5 424v1" stroke="#9fb8be" stroke-width="1"/>
<path d="M33.5 437v-1 M37.5 437v-1 M40.5 437v-1 M43.5 437v-1 M47.5 437v-1 M50.5 437v-1 M53.5 437v-1 M57.5 437v-1 M60.5 437v-1 M63.5 437v-1 M67.5 437v-1 M70.5 437v-1 M73.5 437v-1 M77.5 437v-1 M80.5 437v-1 M83.5 437v-1 M87.5 437v-1 M90.5 437v-1 M93.5 437v-1 M97.5 437v-1 M100.5 437v-1 M103.5 437v-1 M107.5 437v-1 M110.5 437v-1 M113.5 437v-1 M117.5 437v-1 M120.5 437v-1 M123.5 437v-1 M127.5 437v-1 M130.5 437v-1 M133.5 437v-1 M137.5 437v-1 M140.5 437v-1 M143.5 437v-1 M147.5 437v-1 M150.5 437v-1 M153.5 437v-1 M157.5 437v-1 M160.5 437v-1 M163.5 437v-1 M167.5 437v-1 M170.5 437v-1 M173.5 437v-1 M177.5 437v-1 M180.5 437v-1 M183.5 437v-1 M187.5 437v-1 M190.5 437v-1 M193.5 437v-1 M197.5 437v-1 M200.5 437v-1 M203.5 437v-1 M207.5 437v-1 M210.5 437v-1 M213.5 437v-1 M217.5 437v-1 M220.5 437v-1 M223.5 437v-1 M227.5 437v-1 M230.5 437v-1 M233.5 437v-1 M237.5 437v-1 M240.5 437v-1 M243.5 437v-1 M247.5 437v-1 M250.5 437v-1 M253.5 437v-1 M257.5 437v-1 M260.5 437v-1 M263.5 437v-1 M267.5 437v-1 M270.5 437v-1 M273.5 437v-1 M277.5 437v-1 M280.5 437v-1 M283.5 437v-1 M287.5 437v-1 M290.5 437v-1 M293.5 437v-1 M297.5 437v-1 M300.5 437v-1 M303.5 437v-1 M307.5 437v-1 M310.5 437v-1 M313.5 437v-1 M317.5 437v-1 M320.5 437v-1 M323.5 437v-1 M327.5 437v-1 M330.5 437v-1 M333.5 437v-1 M337.5 437v-1 M340.5 437v-1 M343.5 437v-1 M347.5 437v-1 M350.5 437v-1 M353.5 437v-1 M357.5 437v-1 M360.5 437v-1 M363.5 437v-1 M367.5 437v-1 M370.5 437v-1 M373.5 437v-1 M377.5 437v-1 M380.5 437v-1 M383.5 437v-1 M387.5 437v-1 M390.5 437v-1 M393.5 437v-1 M397.5 437v-1 M400.5 437v-1 M403.5 437v-1 M407.5 437v-1 M410.5 437v-1 M413.5 437v-1 M417.5 437v-1 M420.5 437v-1 M423.5 437v-1 M427.5 437v-1 M430.5 437v-1 M433.5 437v-1 M437.5 437v-1 M440.5 437v-1 M443.5 437v-1 M447.5 437v-1 M450.5 437v-1 M453.5 437v-1 M457.5 437v-1 M460.5 437v-1 M463.5 437v-1 M467.5 437v-1 M470.5 437v-1 M473.5 437v-1 M477.5 437v-1 M480.5 437v-1 M483.5 437v-1 M487.5 437v-1 M490.5 437v-1 M493.5 437v-1 M497.5 437v-1 M500.5 437v-1 M503.5 437v-1 M507.5 437v-1 M510.5 437v-1 M513.5 437v-1 M517.5 437v-1 M520.5 437v-1 M523.5 437v-1 M527.5 437v-1 M530.5 437v-1 M534.5 437v-1 M537.5 437v-1 M540.5 437v-1 M544.5 437v-1 M547.5 437v-1 M550.5 437v-1 M554.5 437v-1 M557.5 437v-1 M560.5 437v-1 M564.5 437v-1 M567.5 437v-1 M570.5 437v-1 M574.5 437v-1 M577.5 437v-1 M580.5 437v-1 M584.5 437v-1 M587.5 437v-1 M590.5 437v-1 M594.5 437v-1 M597.5 437v-1 M600.5 437v-1 M604.5 437v-1 M607.5 437v-1 M610.5 437v-1 M614.5 437v-1 M617.5 437v-1 M620.5 437v-1 M624.5 437v-1 M627.5 437v-1 M630.5 437v-1 M634.5 437v-1 M637.5 437v-1 M640.5 437v-1 M644.5 437v-1 M647.5 437v-1 M650.5 437v-1 M654.5 437v-1 M657.5 437v-1 M660.5 437v-1 M664.5 437v-1 M667.5 437v-1 M670.5 437v-1 M674.5 437v-1 M677.5 437v-1 M680.5 437v-1 M684.5 437v-1 M687.5 437v-1 M690.5 437v-1 M694.5 437v-1 M697.5 437v-1 M700.5 437v-1 M704.5 437v-1 M707.5 437v-1 M710.5 437v-1 M714.5 437v-1 M717.5 437v-1 M720.5 437v-1 M724.5 437v-1 M727.5 437v-1 M730.5 437v-1 M734.5 437v-1 M737.5 437v-1 M740.5 437v-1 M744.5 437v-1 M747.5 437v-1 M750.5 437v-1 M754.5 437v-1 M757.5 437v-1 M760.5 437v-1 M764.5 437v-1 M767.5 437v-1 M770.5 437v-1 M774.5 437v-1 M777.5 437v-1 M780.5 437v-1 M784.5 437v-1 M787.5 437v-1 M790.5 437v-1 M794.5 437v-1 M797.5 437v-1 M800.5 437v-1 M804.5 437v-1 M807.5 437v-1 M810.5 437v-1 M814.5 437v-1 M817.5 437v-1 M820.5 437v-1 M824.5 437v-1 M827.5 437v-1 M830.5 437v-1 M834.5 437v-1 M837.5 437v-1 M840.5 437v-1 M844.5 437v-1 M847.5 437v-1 M850.5 437v-1 M854.5 437v-1 M857.5 437v-1 M860.5 437v-1 M864.5 437v-1 M867.5 437v-1 M870.5 437v-1 M874.5 437v-1 M877.5 437v-1 M880.5 437v-1 M884.5 437v-1 M887.5 437v-1 M890.5 437v-1 M894.5 437v-1 M897.5 437v-1 M900.5 437v-1 M904.5 437v-1 M907.5 437v-1 M910.5 437v-1 M914.5 437v-1 M917.5 437v-1 M920.5 437v-1 M924.5 437v-1 M927.5 437v-1 M930.5 437v-1 M934.5 437v-1 M937.5 437v-1 M940.5 437v-1 M944.5 437v-1" stroke="#9fb8be" stroke-width="1"/>
<path d="M33.5 576v1 M37.5 576v1 M40.5 576v1 M43.5 576v1 M47.5 576v1 M50.5 576v1 M53.5 576v1 M57.5 576v1 M60.5 576v1 M63.5 576v1 M67.5 576v1 M70.5 576v1 M73.5 576v1 M77.5 576v1 M80.5 576v1 M83.5 576v1 M87.5 576v1 M90.5 576v1 M93.5 576v1 M97.5 576v1 M100.5 576v1 M103.5 576v1 M107.5 576v1 M110.5 576v1 M113.5 576v1 M117.5 576v1 M120.5 576v1 M123.5 576v1 M127.5 576v1 M130.5 576v1 M133.5 576v1 M137.5 576v1 M140.5 576v1 M143.5 576v1 M147.5 576v1 M150.5 576v1 M153.5 576v1 M157.5 576v1 M160.5 576v1 M163.5 576v1 M167.5 576v1 M170.5 576v1 M173.5 576v1 M177.5 576v1 M180.5 576v1 M183.5 576v1 M187.5 576v1 M190.5 576v1 M193.5 576v1 M197.5 576v1 M200.5 576v1 M203.5 576v1 M207.5 576v1 M210.5 576v1 M213.5 576v1 M217.5 576v1 M220.5 576v1 M223.5 576v1 M227.5 576v1 M230.5 576v1 M233.5 576v1 M237.5 576v1 M240.5 576v1 M243.5 576v1 M247.5 576v1 M250.5 576v1 M253.5 576v1 M257.5 576v1 M260.5 576v1 M263.5 576v1 M267.5 576v1 M270.5 576v1 M273.5 576v1 M277.5 576v1 M280.5 576v1 M283.5 576v1 M287.5 576v1 M290.5 576v1 M293.5 576v1 M297.5 576v1 M300.5 576v1 M303.5 576v1 M307.5 576v1 M310.5 576v1 M313.5 576v1 M317.5 576v1 M320.5 576v1 M323.5 576v1 M327.5 576v1 M330.5 576v1 M333.5 576v1 M337.5 576v1 M340.5 576v1 M343.5 576v1 M347.5 576v1 M350.5 576v1 M353.5 576v1 M357.5 576v1 M360.5 576v1 M363.5 576v1 M367.5 576v1 M370.5 576v1 M373.5 576v1 M377.5 576v1 M380.5 576v1 M383.5 576v1 M387.5 576v1 M390.5 576v1 M393.5 576v1 M397.5 576v1 M400.5 576v1 M403.5 576v1 M407.5 576v1 M410.5 576v1 M413.5 576v1 M417.5 576v1 M420.5 576v1 M423.5 576v1 M427.5 576v1 M430.5 576v1 M433.5 576v1 M437.5 576v1 M440.5 576v1 M443.5 576v1 M447.5 576v1 M450.5 576v1 M453.5 576v1 M457.5 576v1 M460.5 576v1 M463.5 576v1 M467.5 576v1 M470.5 576v1 M473.5 576v1 M477.5 576v1 M480.5 576v1 M483.5 576v1 M487.5 576v1 M490.5 576v1 M493.5 576v1 M497.5 576v1 M500.5 576v1 M503.5 576v1 M507.5 576v1 M510.5 576v1 M513.5 576v1 M517.5 576v1 M520.5 576v1 M523.5 576v1 M527.5 576v1 M530.5 576v1 M534.5 576v1 M537.5 576v1 M540.5 576v1 M544.5 576v1 M547.5 576v1 M550.5 576v1 M554.5 576v1 M557.5 576v1 M560.5 576v1 M564.5 576v1 M567.5 576v1 M570.5 576v1 M574.5 576v1 M577.5 576v1 M580.5 576v1 M584.5 576v1 M587.5 576v1 M590.5 576v1 M594.5 576v1 M597.5 576v1 M600.5 576v1 M604.5 576v1 M607.5 576v1 M610.5 576v1 M614.5 576v1 M617.5 576v1 M620.5 576v1 M624.5 576v1 M627.5 576v1 M630.5 576v1 M634.5 576v1 M637.5 576v1 M640.5 576v1 M644.5 576v1 M647.5 576v1 M650.5 576v1 M654.5 576v1 M657.5 576v1 M660.5 576v1 M664.5 576v1 M667.5 576v1 M670.5 576v1 M674.5 576v1 M677.5 576v1 M680.5 576v1 M684.5 576v1 M687.5 576v1 M690.5 576v1 M694.5 576v1 M697.5 576v1 M700.5 576v1 M704.5 576v1 M707.5 576v1 M710.5 576v1 M714.5 576v1 M717.5 576v1 M720.5 576v1 M724.5 576v1 M727.5 576v1 M730.5 576v1 M734.5 576v1 M737.5 576v1 M740.5 576v1 M744.5 576v1 M747.5 576v1 M750.5 576v1 M754.5 576v1 M757.5 576v1 M760.5 576v1 M764.5 576v1 M767.5 576v1 M770.5 576v1 M774.5 576v1 M777.5 576v1 M780.5 576v1 M784.5 576v1 M787.5 576v1 M790.5 576v1 M794.5 576v1 M797.5 576v1 M800.5 576v1 M804.5 576v1 M807.5 576v1 M810.5 576v1 M814.5 576v1 M817.5 576v1 M820.5 576v1 M824.5 576v1 M827.5 576v1 M830.5 576v1 M834.5 576v1 M837.5 576v1 M840.5 576v1 M844.5 576v1 M847.5 576v1 M850.5 576v1 M854.5 576v1 M857.5 576v1 M860.5 576v1 M864.5 576v1 M867.5 576v1 M870.5 576v1 M874.5 576v1 M877.5 576v1 M880.5 576v1 M884.5 576v1 M887.5 576v1 M890.5 576v1 M894.5 576v1 M897.5 576v1 M900.5 576v1 M904.5 576v1 M907.5 576v1 M910.5 576v1 M914.5 576v1 M917.5 576v1 M920.5 576v1 M924.5 576v1 M927.5 576v1 M930.5 576v1 M934.5 576v1 M937.5 576v1 M940.5 576v1 M944.5 576v1" stroke="#9fb8be" stroke-width="1"/>
<text x="63.4" y="434.5" font-size="10.5" fill="#000" text-anchor="middle" font-weight="normal">Apr</text>
<text x="63.4" y="586.5" font-size="10.5" fill="#000" text-anchor="middle" font-weight="normal">Apr</text>
<text x="133.4" y="434.5" font-size="10.5" fill="#000" text-anchor="middle" font-weight="normal">May</text>
<text x="133.4" y="586.5" font-size="10.5" fill="#000" text-anchor="middle" font-weight="normal">May</text>
<text x="200.1" y="434.5" font-size="10.5" fill="#000" text-anchor="middle" font-weight="normal">Jun</text>
<text x="200.1" y="586.5" font-size="10.5" fill="#000" text-anchor="middle" font-weight="normal">Jun</text>
<text x="273.4" y="434.5" font-size="10.5" fill="#000" text-anchor="middle" font-weight="normal">Jul</text>
<text x="273.4" y="586.5" font-size="10.5" fill="#000" text-anchor="middle" font-weight="normal">Jul</text>
<text x="343.5" y="434.5" font-size="10.5" fill="#000" text-anchor="middle" font-weight="normal">Aug</text>
<text x="343.5" y="586.5" font-size="10.5" fill="#000" text-anchor="middle" font-weight="normal">Aug</text>
<text x="416.8" y="434.5" font-size="10.5" fill="#000" text-anchor="middle" font-weight="normal">Sep</text>
<text x="416.8" y="586.5" font-size="10.5" fill="#000" text-anchor="middle" font-weight="normal">Sep</text>
<text x="486.8" y="434.5" font-size="10.5" fill="#000" text-anchor="middle" font-weight="normal">Oct</text>
<text x="486.8" y="586.5" font-size="10.5" fill="#000" text-anchor="middle" font-weight="normal">Oct</text>
<text x="556.8" y="434.5" font-size="10.5" fill="#000" text-anchor="middle" font-weight="normal">Nov</text>
<text x="556.8" y="586.5" font-size="10.5" fill="#000" text-anchor="middle" font-weight="normal">Nov</text>
<text x="626.9" y="434.5" font-size="10.5" fill="#000" text-anchor="middle" font-weight="normal">Dec</text>
<text x="626.9" y="586.5" font-size="10.5" fill="#000" text-anchor="middle" font-weight="normal">Dec</text>
<text x="700.2" y="434.5" font-size="10.5" fill="#000" text-anchor="middle" font-weight="bold">2022</text>
<text x="700.2" y="586.5" font-size="10.5" fill="#000" text-anchor="middle" font-weight="bold">2022</text>
<text x="766.9" y="434.5" font-size="10.5" fill="#000" text-anchor="middle" font-weight="normal">Feb</text>
<text x="766.9" y="586.5" font-size="10.5" fill="#000" text-anchor="middle" font-weight="normal">Feb</text>
<text x="830.2" y="434.5" font-size="10.5" fill="#000" text-anchor="middle" font-weight="normal">Mar</text>
<text x="830.2" y="586.5" font-size="10.5" fill="#000" text-anchor="middle" font-weight="normal">Mar</text>
<text x="906.9" y="434.5" font-size="10.5" fill="#000" text-anchor="middle" font-weight="normal">Apr</text>
<text x="906.9" y="586.5" font-size="10.5" fill="#000" text-anchor="middle" font-weight="normal">Apr</text>
<rect x="32.5" y="437.5" width="914.0" height="138.0" fill="url(#gr)" stroke="#96aeb4" stroke-width="1"/>
<g clip-path="url(#cr)">
<path d="M37.5 438V575 M53.5 438V575 M63.5 438V575 M67.5 438V575 M83.5 438V575 M100.5 438V575 M117.5 438V575 M133.5 438V575 M150.5 438V575 M167.5 438V575 M183.5 438V575 M200.5 438V575 M213.5 438V575 M230.5 438V575 M247.5 438V575 M263.5 438V575 M273.5 438V575 M280.5 438V575 M293.5 438V575 M310.5 438V575 M327.5 438V575 M343.5 438V575 M360.5 438V575 M377.5 438V575 M393.5 438V575 M410.5 438V575 M417.5 438V575 M427.5 438V575 M440.5 438V575 M457.5 438V575 M473.5 438V575 M487.5 438V575 M490.5 438V575 M507.5 438V575 M523.5 438V575 M540.5 438V575 M557.5 438V575 M574.5 438V575 M590.5 438V575 M607.5 438V575 M620.5 438V575 M627.5 438V575 M637.5 438V575 M654.5 438V575 M670.5 438V575 M684.5 438V575 M700.5 438V575 M717.5 438V575 M734.5 438V575 M747.5 438V575 M764.5 438V575 M767.5 438V575 M780.5 438V575 M797.5 438V575 M814.5 438V575 M827.5 438V575 M830.5 438V575 M844.5 438V575 M860.5 438V575 M877.5 438V575 M894.5 438V575 M907.5 438V575 M910.5 438V575 M927.5 438V575 M940.5 438V575 M33 568.5H946 M33 556.5H946 M33 544.5H946 M33 531.5H946 M33 519.5H946 M33 507.5H946 M33 494.5H946 M33 482.5H946 M33 469.5H946 M33 457.5H946 M33 445.5H946" stroke="rgb(100,130,100)" stroke-opacity="0.14" stroke-width="1" fill="none"/>
<path d="M63.5 438V575 M133.5 438V575 M200.5 438V575 M273.5 438V575 M343.5 438V575 M417.5 438V575 M487.5 438V575 M557.5 438V575 M627.5 438V575 M700.5 438V575 M767.5 438V575 M830.5 438V575 M907.5 438V575" stroke="rgb(100,130,100)" stroke-opacity="0.16" stroke-width="1" fill="none"/>
<path d="M77.6 482.5 L80.5 479.2 L83.5 478.9 L87.5 478.2 L90.5 482.3 L93.5 478.0 L97.5 476.2 L100.5 481.5 L100.9 482.5 Z" fill="#70b4a4"/>
<path d="M275.0 482.5 L277.5 479.2 L280.5 482.3 L283.5 480.8 L284.0 482.5 Z" fill="#70b4a4"/>
<path d="M558.5 482.5 L560.5 481.5 L563.5 477.4 L567.5 475.5 L570.5 474.4 L573.5 473.5 L577.5 479.2 L578.4 482.5 Z" fill="#70b4a4"/>
<path d="M741.4 531.5 L743.5 535.4 L747.5 532.9 L750.5 535.9 L753.5 537.1 L757.5 538.3 L758.7 531.5 Z" fill="#70b4a4"/>
<path d="M33 482.5H946 M33 531.5H946" stroke="#1e1ed4" stroke-width="1"/>
<path d="M33 506.5H946" stroke="#1e1ed4" stroke-width="1" stroke-dasharray="9 3 2 3"/>
<path d="M33.5 503.5 L37.5 499.2 L40.5 503.2 L43.5 507.3 L47.5 504.2 L50.5 495.6 L53.5 496.7 L57.5 498.5 L60.5 496.7 L63.5 490.2 L67.5 485.0 L70.5 485.3 L73.5 483.8 L77.5 482.6 L80.5 479.2 L83.5 478.9 L87.5 478.2 L90.5 482.3 L93.5 478.0 L97.5 476.2 L100.5 481.5 L103.5 489.5 L107.5 485.0 L110.5 493.6 L113.5 488.3 L117.5 487.1 L120.5 487.1 L123.5 488.3 L127.5 484.7 L130.5 491.8 L133.5 490.6 L137.5 496.7 L140.5 496.2 L143.5 491.4 L147.5 486.8 L150.5 493.6 L153.5 505.0 L157.5 518.6 L160.5 510.3 L163.5 501.2 L167.5 502.7 L170.5 507.9 L173.5 509.2 L177.5 503.8 L180.5 503.9 L183.5 498.6 L187.5 499.2 L190.5 498.5 L193.5 498.2 L197.5 497.4 L200.5 498.5 L203.5 497.4 L207.5 500.2 L210.5 494.7 L213.5 494.4 L217.5 494.7 L220.5 497.4 L223.5 493.6 L227.5 491.8 L230.5 490.5 L233.5 492.6 L237.5 500.2 L240.5 500.5 L243.5 515.6 L247.5 503.2 L250.5 497.4 L253.5 498.2 L257.5 494.7 L260.5 491.4 L263.5 490.2 L267.5 489.1 L270.5 487.6 L273.5 484.5 L277.5 479.2 L280.5 482.3 L283.5 480.8 L287.5 493.6 L290.5 485.3 L293.5 483.0 L297.5 487.1 L300.5 486.5 L303.5 491.4 L307.5 498.9 L310.5 514.4 L313.5 502.0 L317.5 497.4 L320.5 494.9 L323.5 489.1 L327.5 488.0 L330.5 493.2 L333.5 493.3 L337.5 490.6 L340.5 495.9 L343.5 498.2 L347.5 492.6 L350.5 497.4 L353.5 493.2 L357.5 491.4 L360.5 493.6 L363.5 492.1 L367.5 490.6 L370.5 488.0 L373.5 486.1 L377.5 484.1 L380.5 495.9 L383.5 507.3 L387.5 506.5 L390.5 498.9 L393.5 491.4 L397.5 490.6 L400.5 489.5 L403.5 495.9 L407.5 490.6 L410.5 486.5 L413.5 488.3 L417.5 488.3 L420.5 486.5 L423.5 486.8 L427.5 491.4 L430.5 494.4 L433.5 500.5 L437.5 510.3 L440.5 507.3 L443.5 513.3 L447.5 504.7 L450.5 505.0 L453.5 516.0 L457.5 527.4 L460.5 527.4 L463.5 516.4 L467.5 507.3 L470.5 505.3 L473.5 507.3 L477.5 520.9 L480.5 520.2 L483.5 526.2 L487.5 517.1 L490.5 523.5 L493.5 515.6 L497.5 513.3 L500.5 506.8 L503.5 507.3 L507.5 511.4 L510.5 514.4 L513.5 511.8 L517.5 500.5 L520.5 495.6 L523.5 493.2 L527.5 490.6 L530.5 489.1 L533.5 487.1 L537.5 487.6 L540.5 486.1 L543.5 485.3 L547.5 490.3 L550.5 485.3 L553.5 484.1 L557.5 483.0 L560.5 481.5 L563.5 477.4 L567.5 475.5 L570.5 474.4 L573.5 473.5 L577.5 479.2 L580.5 490.6 L583.5 488.6 L587.5 485.3 L590.5 484.2 L593.5 483.0 L597.5 486.1 L600.5 483.0 L603.5 483.8 L607.5 490.6 L610.5 489.1 L613.5 487.6 L617.5 513.3 L620.5 502.7 L623.5 515.6 L627.5 522.4 L630.5 512.6 L633.5 516.4 L637.5 509.5 L640.5 499.7 L643.5 495.9 L647.5 500.8 L650.5 496.2 L653.5 502.7 L657.5 506.2 L660.5 498.6 L663.5 503.2 L667.5 508.0 L670.5 514.4 L673.5 503.5 L677.5 500.5 L680.5 497.4 L683.5 492.1 L687.5 492.9 L690.5 492.1 L693.5 494.1 L697.5 496.2 L700.5 493.2 L703.5 494.4 L707.5 506.5 L710.5 506.8 L713.5 510.3 L717.5 511.4 L720.5 505.8 L723.5 503.8 L727.5 511.8 L730.5 511.4 L733.5 521.8 L737.5 526.6 L740.5 529.8 L743.5 535.4 L747.5 532.9 L750.5 535.9 L753.5 537.1 L757.5 538.3 L760.5 521.0 L763.5 510.9 L767.5 508.3 L770.5 503.8 L773.5 514.3 L777.5 511.2 L780.5 513.4 L783.5 507.5 L787.5 502.7 L790.5 510.0 L793.5 517.6 L797.5 519.3 L800.5 511.7 L803.5 511.7 L807.5 518.5 L810.5 521.4 L813.5 524.4 L817.5 529.1 L820.5 521.4 L823.5 512.6 L827.5 513.4 L830.5 518.5 L833.5 510.0 L837.5 511.7 L840.5 516.8 L843.5 523.6 L847.5 525.3 L850.5 515.1 L853.5 516.8 L857.5 519.3 L860.5 522.4 L863.5 513.4 L867.5 504.9 L870.5 500.7 L873.5 498.2" stroke="#3434d4" stroke-width="1" fill="none" stroke-linejoin="round"/>
</g>
<path d="M35.5 447.7 V444 L38.2 439.6 L40 442.8 L41.6 441.2 L43.6 444.2 V447.7 Z" fill="#70b4a4"/>
<path d="M35.5 447.7 V444 L38.2 439.6 L40 442.8 L41.6 441.2 L43.6 444.2 V447.7" fill="none" stroke="#1e1ed4" stroke-width="1"/>
<text x="47.8" y="447.9" font-size="9.9" letter-spacing="0.05" fill="#000" style="font-family:&quot;Liberation Mono&quot;,monospace">RSI(14) 57.24</text>
<text x="950" y="459.8" font-size="9.6" letter-spacing="0.45" fill="#000">90</text>
<text x="950" y="484.6" font-size="9.6" letter-spacing="0.45" fill="#000">70</text>
<text x="950" y="509.1" font-size="9.6" letter-spacing="0.45" fill="#000">50</text>
<text x="950" y="534.1" font-size="9.6" letter-spacing="0.45" fill="#000">30</text>
<text x="950" y="558.6" font-size="9.6" letter-spacing="0.45" fill="#000">10</text>
<path d="M946.5 568.5h2.5 M946.5 562.5h1.5 M946.5 556.5h2.5 M946.5 550.5h1.5 M946.5 544.5h2.5 M946.5 537.5h1.5 M946.5 531.5h2.5 M946.5 525.5h1.5 M946.5 519.5h2.5 M946.5 513.5h1.5 M946.5 507.5h2.5 M946.5 500.5h1.5 M946.5 494.5h2.5 M946.5 488.5h1.5 M946.5 482.5h2.5 M946.5 476.5h1.5 M946.5 469.5h2.5 M946.5 463.5h1.5 M946.5 457.5h2.5 M946.5 451.5h1.5 M946.5 445.5h2.5" stroke="#96aeb4" stroke-width="1"/>
<path d="M944.5 497 L948.5 492 H977.5 V502 H948.5 Z" fill="#eef6fa" stroke="#2424d0" stroke-width="1"/>
<text x="950" y="501" font-size="10.5" fill="#000">57.24</text>
<ellipse cx="569.1" cy="478.8" rx="38.2" ry="19.3" stroke="#f00" stroke-width="3.3" fill="none"/>
<ellipse cx="756" cy="533.9" rx="28.1" ry="11.0" stroke="#f00" stroke-width="3.3" fill="none"/>
</svg></body></html>
